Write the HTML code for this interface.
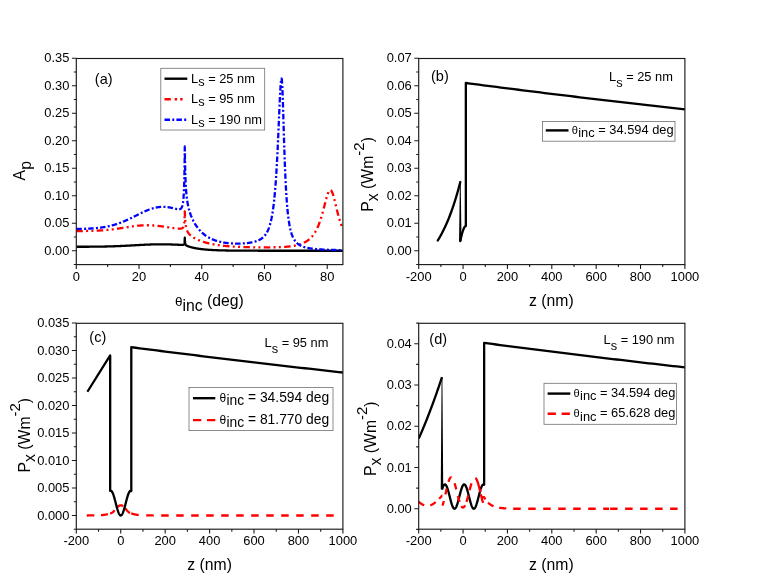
<!DOCTYPE html>
<html><head><meta charset="utf-8"><title>Figure</title>
<style>
html,body{margin:0;padding:0;background:#fff;}
body{width:761px;height:588px;overflow:hidden;font-family:"Liberation Sans", sans-serif;}
svg{display:block;will-change:transform;transform:translateZ(0);}
</style></head><body>
<svg width="761" height="588" viewBox="0 0 761 588" font-family='"Liberation Sans", sans-serif' fill="#000">
<rect width="761" height="588" fill="#fff"/>
<clipPath id="ca"><rect x="76.30" y="58.50" width="266.60" height="206.10"/></clipPath>
<clipPath id="cb"><rect x="418.70" y="58.50" width="266.20" height="206.10"/></clipPath>
<clipPath id="cc"><rect x="76.30" y="323.30" width="266.60" height="205.90"/></clipPath>
<clipPath id="cd"><rect x="418.70" y="323.30" width="266.20" height="205.90"/></clipPath>
<g clip-path="url(#ca)">
<path d="M76.30,246.77 L76.46,246.77 L76.61,246.77 L76.77,246.77 L76.93,246.77 L77.08,246.77 L77.24,246.77 L77.40,246.77 L77.55,246.77 L77.71,246.77 L77.87,246.77 L78.03,246.77 L78.18,246.77 L78.34,246.77 L78.50,246.77 L78.65,246.77 L78.81,246.77 L78.97,246.77 L79.12,246.77 L79.28,246.77 L79.44,246.77 L79.59,246.77 L79.75,246.77 L79.91,246.77 L80.06,246.77 L80.22,246.77 L80.38,246.76 L80.53,246.76 L80.69,246.76 L80.85,246.76 L81.00,246.76 L81.16,246.76 L81.32,246.76 L81.48,246.76 L81.63,246.76 L81.79,246.76 L81.95,246.76 L82.10,246.76 L82.26,246.76 L82.42,246.76 L82.57,246.76 L82.73,246.76 L82.89,246.76 L83.04,246.76 L83.20,246.76 L83.36,246.75 L83.51,246.75 L83.67,246.75 L83.83,246.75 L83.98,246.75 L84.14,246.75 L84.30,246.75 L84.45,246.75 L84.61,246.75 L84.77,246.75 L84.93,246.75 L85.08,246.75 L85.24,246.75 L85.40,246.75 L85.55,246.75 L85.71,246.74 L85.87,246.74 L86.02,246.74 L86.18,246.74 L86.34,246.74 L86.49,246.74 L86.65,246.74 L86.81,246.74 L86.96,246.74 L87.12,246.74 L87.28,246.74 L87.43,246.74 L87.59,246.73 L87.75,246.73 L87.90,246.73 L88.06,246.73 L88.22,246.73 L88.38,246.73 L88.53,246.73 L88.69,246.73 L88.85,246.73 L89.00,246.73 L89.16,246.73 L89.32,246.72 L89.47,246.72 L89.63,246.72 L89.79,246.72 L89.94,246.72 L90.10,246.72 L90.26,246.72 L90.41,246.72 L90.57,246.72 L90.73,246.71 L90.88,246.71 L91.04,246.71 L91.20,246.71 L91.36,246.71 L91.51,246.71 L91.67,246.71 L91.83,246.71 L91.98,246.70 L92.14,246.70 L92.30,246.70 L92.45,246.70 L92.61,246.70 L92.77,246.70 L92.92,246.70 L93.08,246.69 L93.24,246.69 L93.39,246.69 L93.55,246.69 L93.71,246.69 L93.86,246.69 L94.02,246.69 L94.18,246.68 L94.33,246.68 L94.49,246.68 L94.65,246.68 L94.81,246.68 L94.96,246.68 L95.12,246.67 L95.28,246.67 L95.43,246.67 L95.59,246.67 L95.75,246.67 L95.90,246.67 L96.06,246.66 L96.22,246.66 L96.37,246.66 L96.53,246.66 L96.69,246.66 L96.84,246.65 L97.00,246.65 L97.16,246.65 L97.31,246.65 L97.47,246.65 L97.63,246.64 L97.78,246.64 L97.94,246.64 L98.10,246.64 L98.26,246.64 L98.41,246.63 L98.57,246.63 L98.73,246.63 L98.88,246.63 L99.04,246.62 L99.20,246.62 L99.35,246.62 L99.51,246.62 L99.67,246.62 L99.82,246.61 L99.98,246.61 L100.14,246.61 L100.29,246.61 L100.45,246.60 L100.61,246.60 L100.76,246.60 L100.92,246.60 L101.08,246.59 L101.23,246.59 L101.39,246.59 L101.55,246.59 L101.71,246.58 L101.86,246.58 L102.02,246.58 L102.18,246.57 L102.33,246.57 L102.49,246.57 L102.65,246.57 L102.80,246.56 L102.96,246.56 L103.12,246.56 L103.27,246.55 L103.43,246.55 L103.59,246.55 L103.74,246.54 L103.90,246.54 L104.06,246.54 L104.21,246.54 L104.37,246.53 L104.53,246.53 L104.69,246.53 L104.84,246.52 L105.00,246.52 L105.16,246.52 L105.31,246.51 L105.47,246.51 L105.63,246.51 L105.78,246.50 L105.94,246.50 L106.10,246.49 L106.25,246.49 L106.41,246.49 L106.57,246.48 L106.72,246.48 L106.88,246.48 L107.04,246.47 L107.19,246.47 L107.35,246.46 L107.51,246.46 L107.66,246.46 L107.82,246.45 L107.98,246.45 L108.14,246.45 L108.29,246.44 L108.45,246.44 L108.61,246.43 L108.76,246.43 L108.92,246.42 L109.08,246.42 L109.23,246.42 L109.39,246.41 L109.55,246.41 L109.70,246.40 L109.86,246.40 L110.02,246.39 L110.17,246.39 L110.33,246.39 L110.49,246.38 L110.64,246.38 L110.80,246.37 L110.96,246.37 L111.11,246.36 L111.27,246.36 L111.43,246.35 L111.59,246.35 L111.74,246.34 L111.90,246.34 L112.06,246.33 L112.21,246.33 L112.37,246.32 L112.53,246.32 L112.68,246.31 L112.84,246.31 L113.00,246.30 L113.15,246.30 L113.31,246.29 L113.47,246.29 L113.62,246.28 L113.78,246.28 L113.94,246.27 L114.09,246.27 L114.25,246.26 L114.41,246.25 L114.56,246.25 L114.72,246.24 L114.88,246.24 L115.04,246.23 L115.19,246.23 L115.35,246.22 L115.51,246.22 L115.66,246.21 L115.82,246.20 L115.98,246.20 L116.13,246.19 L116.29,246.19 L116.45,246.18 L116.60,246.17 L116.76,246.17 L116.92,246.16 L117.07,246.16 L117.23,246.15 L117.39,246.14 L117.54,246.14 L117.70,246.13 L117.86,246.12 L118.02,246.12 L118.17,246.11 L118.33,246.10 L118.49,246.10 L118.64,246.09 L118.80,246.09 L118.96,246.08 L119.11,246.07 L119.27,246.07 L119.43,246.06 L119.58,246.05 L119.74,246.04 L119.90,246.04 L120.05,246.03 L120.21,246.02 L120.37,246.02 L120.52,246.01 L120.68,246.00 L120.84,246.00 L120.99,245.99 L121.15,245.98 L121.31,245.98 L121.47,245.97 L121.62,245.96 L121.78,245.95 L121.94,245.95 L122.09,245.94 L122.25,245.93 L122.41,245.92 L122.56,245.92 L122.72,245.91 L122.88,245.90 L123.03,245.89 L123.19,245.89 L123.35,245.88 L123.50,245.87 L123.66,245.86 L123.82,245.86 L123.97,245.85 L124.13,245.84 L124.29,245.83 L124.44,245.83 L124.60,245.82 L124.76,245.81 L124.92,245.80 L125.07,245.79 L125.23,245.79 L125.39,245.78 L125.54,245.77 L125.70,245.76 L125.86,245.75 L126.01,245.75 L126.17,245.74 L126.33,245.73 L126.48,245.72 L126.64,245.71 L126.80,245.71 L126.95,245.70 L127.11,245.69 L127.27,245.68 L127.42,245.67 L127.58,245.66 L127.74,245.66 L127.89,245.65 L128.05,245.64 L128.21,245.63 L128.37,245.62 L128.52,245.61 L128.68,245.60 L128.84,245.60 L128.99,245.59 L129.15,245.58 L129.31,245.57 L129.46,245.56 L129.62,245.55 L129.78,245.55 L129.93,245.54 L130.09,245.53 L130.25,245.52 L130.40,245.51 L130.56,245.50 L130.72,245.49 L130.87,245.48 L131.03,245.48 L131.19,245.47 L131.35,245.46 L131.50,245.45 L131.66,245.44 L131.82,245.43 L131.97,245.42 L132.13,245.41 L132.29,245.41 L132.44,245.40 L132.60,245.39 L132.76,245.38 L132.91,245.37 L133.07,245.36 L133.23,245.35 L133.38,245.34 L133.54,245.34 L133.70,245.33 L133.85,245.32 L134.01,245.31 L134.17,245.30 L134.32,245.29 L134.48,245.28 L134.64,245.27 L134.80,245.26 L134.95,245.26 L135.11,245.25 L135.27,245.24 L135.42,245.23 L135.58,245.22 L135.74,245.21 L135.89,245.20 L136.05,245.19 L136.21,245.19 L136.36,245.18 L136.52,245.17 L136.68,245.16 L136.83,245.15 L136.99,245.14 L137.15,245.13 L137.30,245.12 L137.46,245.11 L137.62,245.11 L137.77,245.10 L137.93,245.09 L138.09,245.08 L138.25,245.07 L138.40,245.06 L138.56,245.05 L138.72,245.05 L138.87,245.04 L139.03,245.03 L139.19,245.02 L139.34,245.01 L139.50,245.00 L139.66,244.99 L139.81,244.99 L139.97,244.98 L140.13,244.97 L140.28,244.96 L140.44,244.95 L140.60,244.94 L140.75,244.94 L140.91,244.93 L141.07,244.92 L141.22,244.91 L141.38,244.90 L141.54,244.89 L141.70,244.89 L141.85,244.88 L142.01,244.87 L142.17,244.86 L142.32,244.85 L142.48,244.85 L142.64,244.84 L142.79,244.83 L142.95,244.82 L143.11,244.81 L143.26,244.81 L143.42,244.80 L143.58,244.79 L143.73,244.78 L143.89,244.78 L144.05,244.77 L144.20,244.76 L144.36,244.75 L144.52,244.75 L144.68,244.74 L144.83,244.73 L144.99,244.72 L145.15,244.72 L145.30,244.71 L145.46,244.70 L145.62,244.69 L145.77,244.69 L145.93,244.68 L146.09,244.67 L146.24,244.67 L146.40,244.66 L146.56,244.65 L146.71,244.65 L146.87,244.64 L147.03,244.63 L147.18,244.63 L147.34,244.62 L147.50,244.61 L147.65,244.61 L147.81,244.60 L147.97,244.59 L148.13,244.59 L148.28,244.58 L148.44,244.57 L148.60,244.57 L148.75,244.56 L148.91,244.56 L149.07,244.55 L149.22,244.54 L149.38,244.54 L149.54,244.53 L149.69,244.53 L149.85,244.52 L150.01,244.52 L150.16,244.51 L150.32,244.51 L150.48,244.50 L150.63,244.49 L150.79,244.49 L150.95,244.48 L151.10,244.48 L151.26,244.47 L151.42,244.47 L151.58,244.46 L151.73,244.46 L151.89,244.45 L152.05,244.45 L152.20,244.45 L152.36,244.44 L152.52,244.44 L152.67,244.43 L152.83,244.43 L152.99,244.42 L153.14,244.42 L153.30,244.41 L153.46,244.41 L153.61,244.41 L153.77,244.40 L153.93,244.40 L154.08,244.40 L154.24,244.39 L154.40,244.39 L154.55,244.39 L154.71,244.38 L154.87,244.38 L155.03,244.38 L155.18,244.37 L155.34,244.37 L155.50,244.37 L155.65,244.36 L155.81,244.36 L155.97,244.36 L156.12,244.35 L156.28,244.35 L156.44,244.35 L156.59,244.35 L156.75,244.34 L156.91,244.34 L157.06,244.34 L157.22,244.34 L157.38,244.34 L157.53,244.33 L157.69,244.33 L157.85,244.33 L158.01,244.33 L158.16,244.33 L158.32,244.33 L158.48,244.32 L158.63,244.32 L158.79,244.32 L158.95,244.32 L159.10,244.32 L159.26,244.32 L159.42,244.32 L159.57,244.32 L159.73,244.32 L159.89,244.32 L160.04,244.31 L160.20,244.31 L160.36,244.31 L160.51,244.31 L160.67,244.31 L160.83,244.31 L160.98,244.31 L161.14,244.31 L161.30,244.31 L161.46,244.31 L161.61,244.31 L161.77,244.31 L161.93,244.31 L162.08,244.32 L162.24,244.32 L162.40,244.32 L162.55,244.32 L162.71,244.32 L162.87,244.32 L163.02,244.32 L163.18,244.32 L163.34,244.32 L163.49,244.32 L163.65,244.33 L163.81,244.33 L163.96,244.33 L164.12,244.33 L164.28,244.33 L164.43,244.33 L164.59,244.34 L164.75,244.34 L164.91,244.34 L165.06,244.34 L165.22,244.34 L165.38,244.35 L165.53,244.35 L165.69,244.35 L165.85,244.35 L166.00,244.36 L166.16,244.36 L166.32,244.36 L166.47,244.36 L166.63,244.37 L166.79,244.37 L166.94,244.37 L167.10,244.38 L167.26,244.38 L167.41,244.38 L167.57,244.39 L167.73,244.39 L167.88,244.39 L168.04,244.40 L168.20,244.40 L168.36,244.40 L168.51,244.41 L168.67,244.41 L168.83,244.42 L168.98,244.42 L169.14,244.42 L169.30,244.43 L169.45,244.43 L169.61,244.44 L169.77,244.44 L169.92,244.45 L170.08,244.45 L170.24,244.46 L170.39,244.46 L170.55,244.46 L170.71,244.47 L170.86,244.47 L171.02,244.48 L171.18,244.48 L171.34,244.49 L171.49,244.49 L171.65,244.50 L171.81,244.51 L171.96,244.51 L172.12,244.52 L172.28,244.52 L172.43,244.53 L172.59,244.53 L172.75,244.54 L172.90,244.54 L173.06,244.55 L173.22,244.56 L173.37,244.56 L173.53,244.57 L173.69,244.57 L173.84,244.58 L174.00,244.59 L174.16,244.59 L174.31,244.60 L174.47,244.60 L174.63,244.61 L174.79,244.62 L174.94,244.62 L175.10,244.63 L175.26,244.64 L175.41,244.64 L175.57,244.65 L175.73,244.65 L175.88,244.66 L176.04,244.67 L176.20,244.67 L176.35,244.68 L176.51,244.69 L176.67,244.69 L176.82,244.70 L176.98,244.71 L177.14,244.71 L177.29,244.72 L177.45,244.73 L177.61,244.73 L177.76,244.74 L177.92,244.75 L178.08,244.75 L178.24,244.76 L178.39,244.77 L178.55,244.77 L178.71,244.78 L178.86,244.79 L179.02,244.79 L179.18,244.80 L179.33,244.81 L179.49,244.81 L179.65,244.82 L179.80,244.83 L179.96,244.83 L180.12,244.84 L180.27,244.84 L180.43,244.85 L180.59,244.85 L180.74,244.86 L180.90,244.86 L181.06,244.86 L181.21,244.87 L181.37,244.87 L181.53,244.87 L181.69,244.87 L181.84,244.87 L182.00,244.87 L182.16,244.87 L182.31,244.86 L182.47,244.86 L182.63,244.85 L182.78,244.83 L182.94,244.81 L183.10,244.79 L183.25,244.76 L183.41,244.71 L183.57,244.65 L183.72,244.56 L183.88,244.44 L184.04,244.26 L184.19,243.99 L184.35,243.54 L184.51,242.73 L184.67,241.06 L184.80,237.54 L184.82,238.26 L184.98,241.68 L185.14,243.14 L185.29,243.91 L185.45,244.37 L185.61,244.69 L185.76,244.92 L185.92,245.10 L186.08,245.25 L186.23,245.38 L186.39,245.48 L186.55,245.58 L186.70,245.67 L186.86,245.75 L187.02,245.83 L187.17,245.90 L187.33,245.97 L187.49,246.04 L187.64,246.10 L187.80,246.16 L187.96,246.22 L188.12,246.28 L188.27,246.34 L188.43,246.40 L188.59,246.45 L188.74,246.50 L188.90,246.56 L189.06,246.61 L189.21,246.66 L189.37,246.71 L189.53,246.76 L189.68,246.80 L189.84,246.85 L190.00,246.90 L190.15,246.94 L190.31,246.99 L190.47,247.03 L190.62,247.08 L190.78,247.12 L190.94,247.16 L191.09,247.21 L191.25,247.25 L191.41,247.29 L191.57,247.33 L191.72,247.37 L191.88,247.41 L192.04,247.45 L192.19,247.49 L192.35,247.53 L192.51,247.56 L192.66,247.60 L192.82,247.64 L192.98,247.68 L193.13,247.71 L193.29,247.75 L193.45,247.78 L193.60,247.82 L193.76,247.85 L193.92,247.88 L194.07,247.92 L194.23,247.95 L194.39,247.98 L194.54,248.02 L194.70,248.05 L194.86,248.08 L195.02,248.11 L195.17,248.14 L195.33,248.17 L195.49,248.20 L195.64,248.23 L195.80,248.26 L195.96,248.29 L196.11,248.32 L196.27,248.35 L196.43,248.37 L196.58,248.40 L196.74,248.43 L196.90,248.45 L197.05,248.48 L197.21,248.51 L197.37,248.53 L197.52,248.56 L197.68,248.58 L197.84,248.61 L198.00,248.63 L198.15,248.66 L198.31,248.68 L198.47,248.71 L198.62,248.73 L198.78,248.75 L198.94,248.78 L199.09,248.80 L199.25,248.82 L199.41,248.85 L199.56,248.87 L199.72,248.89 L199.88,248.91 L200.03,248.93 L200.19,248.95 L200.35,248.97 L200.50,248.99 L200.66,249.01 L200.82,249.03 L200.97,249.05 L201.13,249.07 L201.29,249.09 L201.45,249.11 L201.60,249.13 L201.76,249.15 L201.92,249.17 L202.07,249.19 L202.23,249.21 L202.39,249.22 L202.54,249.24 L202.70,249.26 L202.86,249.28 L203.01,249.29 L203.17,249.31 L203.33,249.33 L203.48,249.34 L203.64,249.36 L203.80,249.38 L203.95,249.39 L204.11,249.41 L204.27,249.42 L204.42,249.44 L204.58,249.45 L204.74,249.47 L204.90,249.48 L205.05,249.50 L205.21,249.51 L205.37,249.53 L205.52,249.54 L205.68,249.55 L205.84,249.57 L205.99,249.58 L206.15,249.60 L206.31,249.61 L206.46,249.62 L206.62,249.64 L206.78,249.65 L206.93,249.66 L207.09,249.67 L207.25,249.69 L207.40,249.70 L207.56,249.71 L207.72,249.72 L207.87,249.73 L208.03,249.75 L208.19,249.76 L208.35,249.77 L208.50,249.78 L208.66,249.79 L208.82,249.80 L208.97,249.81 L209.13,249.82 L209.29,249.84 L209.44,249.85 L209.60,249.86 L209.76,249.87 L209.91,249.88 L210.07,249.89 L210.23,249.90 L210.38,249.91 L210.54,249.92 L210.70,249.93 L210.85,249.94 L211.01,249.94 L211.17,249.95 L211.33,249.96 L211.48,249.97 L211.64,249.98 L211.80,249.99 L211.95,250.00 L212.11,250.01 L212.27,250.02 L212.42,250.02 L212.58,250.03 L212.74,250.04 L212.89,250.05 L213.05,250.06 L213.21,250.07 L213.36,250.07 L213.52,250.08 L213.68,250.09 L213.83,250.10 L213.99,250.10 L214.15,250.11 L214.30,250.12 L214.46,250.13 L214.62,250.13 L214.78,250.14 L214.93,250.15 L215.09,250.15 L215.25,250.16 L215.40,250.17 L215.56,250.18 L215.72,250.18 L215.87,250.19 L216.03,250.20 L216.19,250.20 L216.34,250.21 L216.50,250.21 L216.66,250.22 L216.81,250.23 L216.97,250.23 L217.13,250.24 L217.28,250.24 L217.44,250.25 L217.60,250.26 L217.75,250.26 L217.91,250.27 L218.07,250.27 L218.23,250.28 L218.38,250.28 L218.54,250.29 L218.70,250.29 L218.85,250.30 L219.01,250.31 L219.17,250.31 L219.32,250.32 L219.48,250.32 L219.64,250.33 L219.79,250.33 L219.95,250.33 L220.11,250.34 L220.26,250.34 L220.42,250.35 L220.58,250.35 L220.73,250.36 L220.89,250.36 L221.05,250.37 L221.20,250.37 L221.36,250.38 L221.52,250.38 L221.68,250.38 L221.83,250.39 L221.99,250.39 L222.15,250.40 L222.30,250.40 L222.46,250.41 L222.62,250.41 L222.77,250.41 L222.93,250.42 L223.09,250.42 L223.24,250.42 L223.40,250.43 L223.56,250.43 L223.71,250.44 L223.87,250.44 L224.03,250.44 L224.18,250.45 L224.34,250.45 L224.50,250.45 L224.66,250.46 L224.81,250.46 L224.97,250.46 L225.13,250.47 L225.28,250.47 L225.44,250.47 L225.60,250.48 L225.75,250.48 L225.91,250.48 L226.07,250.49 L226.22,250.49 L226.38,250.49 L226.54,250.50 L226.69,250.50 L226.85,250.50 L227.01,250.50 L227.16,250.51 L227.32,250.51 L227.48,250.51 L227.63,250.52 L227.79,250.52 L227.95,250.52 L228.11,250.52 L228.26,250.53 L228.42,250.53 L228.58,250.53 L228.73,250.53 L228.89,250.54 L229.05,250.54 L229.20,250.54 L229.36,250.54 L229.52,250.55 L229.67,250.55 L229.83,250.55 L229.99,250.55 L230.14,250.55 L230.30,250.56 L230.46,250.56 L230.61,250.56 L230.77,250.56 L230.93,250.57 L231.08,250.57 L231.24,250.57 L231.40,250.57 L231.56,250.57 L231.71,250.58 L231.87,250.58 L232.03,250.58 L232.18,250.58 L232.34,250.58 L232.50,250.59 L232.65,250.59 L232.81,250.59 L232.97,250.59 L233.12,250.59 L233.28,250.60 L233.44,250.60 L233.59,250.60 L233.75,250.60 L233.91,250.60 L234.06,250.60 L234.22,250.61 L234.38,250.61 L234.53,250.61 L234.69,250.61 L234.85,250.61 L235.01,250.61 L235.16,250.62 L235.32,250.62 L235.48,250.62 L235.63,250.62 L235.79,250.62 L235.95,250.62 L236.10,250.62 L236.26,250.63 L236.42,250.63 L236.57,250.63 L236.73,250.63 L236.89,250.63 L237.04,250.63 L237.20,250.63 L237.36,250.64 L237.51,250.64 L237.67,250.64 L237.83,250.64 L237.99,250.64 L238.14,250.64 L238.30,250.64 L238.46,250.64 L238.61,250.65 L238.77,250.65 L238.93,250.65 L239.08,250.65 L239.24,250.65 L239.40,250.65 L239.55,250.65 L239.71,250.65 L239.87,250.66 L240.02,250.66 L240.18,250.66 L240.34,250.66 L240.49,250.66 L240.65,250.66 L240.81,250.66 L240.96,250.66 L241.12,250.66 L241.28,250.66 L241.44,250.67 L241.59,250.67 L241.75,250.67 L241.91,250.67 L242.06,250.67 L242.22,250.67 L242.38,250.67 L242.53,250.67 L242.69,250.67 L242.85,250.67 L243.00,250.67 L243.16,250.68 L243.32,250.68 L243.47,250.68 L243.63,250.68 L243.79,250.68 L243.94,250.68 L244.10,250.68 L244.26,250.68 L244.41,250.68 L244.57,250.68 L244.73,250.68 L244.89,250.68 L245.04,250.69 L245.20,250.69 L245.36,250.69 L245.51,250.69 L245.67,250.69 L245.83,250.69 L245.98,250.69 L246.14,250.69 L246.30,250.69 L246.45,250.69 L246.61,250.69 L246.77,250.69 L246.92,250.69 L247.08,250.69 L247.24,250.69 L247.39,250.70 L247.55,250.70 L247.71,250.70 L247.86,250.70 L248.02,250.70 L248.18,250.70 L248.34,250.70 L248.49,250.70 L248.65,250.70 L248.81,250.70 L248.96,250.70 L249.12,250.70 L249.28,250.70 L249.43,250.70 L249.59,250.70 L249.75,250.70 L249.90,250.70 L250.06,250.71 L250.22,250.71 L250.37,250.71 L250.53,250.71 L250.69,250.71 L250.84,250.71 L251.00,250.71 L251.16,250.71 L251.32,250.71 L251.47,250.71 L251.63,250.71 L251.79,250.71 L251.94,250.71 L252.10,250.71 L252.26,250.71 L252.41,250.71 L252.57,250.71 L252.73,250.71 L252.88,250.71 L253.04,250.71 L253.20,250.71 L253.35,250.71 L253.51,250.72 L253.67,250.72 L253.82,250.72 L253.98,250.72 L254.14,250.72 L254.29,250.72 L254.45,250.72 L254.61,250.72 L254.77,250.72 L254.92,250.72 L255.08,250.72 L255.24,250.72 L255.39,250.72 L255.55,250.72 L255.71,250.72 L255.86,250.72 L256.02,250.72 L256.18,250.72 L256.33,250.72 L256.49,250.72 L256.65,250.72 L256.80,250.72 L256.96,250.72 L257.12,250.72 L257.27,250.72 L257.43,250.72 L257.59,250.72 L257.74,250.72 L257.90,250.72 L258.06,250.73 L258.22,250.73 L258.37,250.73 L258.53,250.73 L258.69,250.73 L258.84,250.73 L259.00,250.73 L259.16,250.73 L259.31,250.73 L259.47,250.73 L259.63,250.73 L259.78,250.73 L259.94,250.73 L260.10,250.73 L260.25,250.73 L260.41,250.73 L260.57,250.73 L260.72,250.73 L260.88,250.73 L261.04,250.73 L261.19,250.73 L261.35,250.73 L261.51,250.73 L261.67,250.73 L261.82,250.73 L261.98,250.73 L262.14,250.73 L262.29,250.73 L262.45,250.73 L262.61,250.73 L262.76,250.73 L262.92,250.73 L263.08,250.73 L263.23,250.73 L263.39,250.73 L263.55,250.73 L263.70,250.73 L263.86,250.73 L264.02,250.73 L264.17,250.73 L264.33,250.73 L264.49,250.73 L264.65,250.73 L264.80,250.73 L264.96,250.74 L265.12,250.74 L265.27,250.74 L265.43,250.74 L265.59,250.74 L265.74,250.74 L265.90,250.74 L266.06,250.74 L266.21,250.74 L266.37,250.74 L266.53,250.74 L266.68,250.74 L266.84,250.74 L267.00,250.74 L267.15,250.74 L267.31,250.74 L267.47,250.74 L267.62,250.74 L267.78,250.74 L267.94,250.74 L268.10,250.74 L268.25,250.74 L268.41,250.74 L268.57,250.74 L268.72,250.74 L268.88,250.74 L269.04,250.74 L269.19,250.74 L269.35,250.74 L269.51,250.74 L269.66,250.74 L269.82,250.74 L269.98,250.74 L270.13,250.74 L270.29,250.74 L270.45,250.74 L270.60,250.74 L270.76,250.74 L270.92,250.74 L271.07,250.74 L271.23,250.74 L271.39,250.74 L271.55,250.74 L271.70,250.74 L271.86,250.74 L272.02,250.74 L272.17,250.74 L272.33,250.74 L272.49,250.74 L272.64,250.74 L272.80,250.74 L272.96,250.74 L273.11,250.74 L273.27,250.74 L273.43,250.74 L273.58,250.74 L273.74,250.74 L273.90,250.74 L274.05,250.74 L274.21,250.74 L274.37,250.74 L274.52,250.74 L274.68,250.74 L274.84,250.74 L275.00,250.74 L275.15,250.74 L275.31,250.74 L275.47,250.74 L275.62,250.74 L275.78,250.74 L275.94,250.74 L276.09,250.74 L276.25,250.74 L276.41,250.74 L276.56,250.74 L276.72,250.74 L276.88,250.74 L277.03,250.74 L277.19,250.74 L277.35,250.74 L277.50,250.74 L277.66,250.74 L277.82,250.74 L277.98,250.74 L278.13,250.74 L278.29,250.74 L278.45,250.74 L278.60,250.74 L278.76,250.74 L278.92,250.74 L279.07,250.74 L279.23,250.74 L279.39,250.74 L279.54,250.74 L279.70,250.74 L279.86,250.75 L280.01,250.75 L280.17,250.75 L280.33,250.75 L280.48,250.75 L280.64,250.75 L280.80,250.75 L280.95,250.75 L281.11,250.75 L281.27,250.75 L281.43,250.75 L281.58,250.75 L281.74,250.75 L281.90,250.75 L282.05,250.75 L282.21,250.75 L282.37,250.75 L282.52,250.75 L282.68,250.75 L282.84,250.75 L282.99,250.75 L283.15,250.75 L283.31,250.75 L283.46,250.75 L283.62,250.75 L283.78,250.75 L283.93,250.75 L284.09,250.75 L284.25,250.75 L284.40,250.75 L284.56,250.75 L284.72,250.75 L284.88,250.75 L285.03,250.75 L285.19,250.75 L285.35,250.75 L285.50,250.75 L285.66,250.75 L285.82,250.75 L285.97,250.75 L286.13,250.75 L286.29,250.75 L286.44,250.75 L286.60,250.75 L286.76,250.75 L286.91,250.75 L287.07,250.75 L287.23,250.75 L287.38,250.75 L287.54,250.75 L287.70,250.75 L287.85,250.75 L288.01,250.75 L288.17,250.75 L288.33,250.75 L288.48,250.75 L288.64,250.75 L288.80,250.75 L288.95,250.75 L289.11,250.75 L289.27,250.75 L289.42,250.75 L289.58,250.75 L289.74,250.75 L289.89,250.75 L290.05,250.75 L290.21,250.75 L290.36,250.75 L290.52,250.75 L290.68,250.75 L290.83,250.75 L290.99,250.75 L291.15,250.75 L291.31,250.75 L291.46,250.75 L291.62,250.75 L291.78,250.75 L291.93,250.75 L292.09,250.75 L292.25,250.75 L292.40,250.75 L292.56,250.75 L292.72,250.75 L292.87,250.75 L293.03,250.75 L293.19,250.75 L293.34,250.75 L293.50,250.75 L293.66,250.75 L293.81,250.75 L293.97,250.75 L294.13,250.75 L294.28,250.75 L294.44,250.75 L294.60,250.75 L294.76,250.75 L294.91,250.75 L295.07,250.75 L295.23,250.75 L295.38,250.75 L295.54,250.75 L295.70,250.75 L295.85,250.75 L296.01,250.75 L296.17,250.75 L296.32,250.75 L296.48,250.75 L296.64,250.75 L296.79,250.75 L296.95,250.75 L297.11,250.75 L297.26,250.75 L297.42,250.75 L297.58,250.75 L297.73,250.75 L297.89,250.75 L298.05,250.75 L298.21,250.75 L298.36,250.75 L298.52,250.75 L298.68,250.75 L298.83,250.75 L298.99,250.75 L299.15,250.75 L299.30,250.75 L299.46,250.75 L299.62,250.75 L299.77,250.75 L299.93,250.75 L300.09,250.75 L300.24,250.75 L300.40,250.75 L300.56,250.75 L300.71,250.75 L300.87,250.75 L301.03,250.75 L301.18,250.75 L301.34,250.75 L301.50,250.75 L301.66,250.75 L301.81,250.75 L301.97,250.75 L302.13,250.75 L302.28,250.75 L302.44,250.75 L302.60,250.75 L302.75,250.75 L302.91,250.75 L303.07,250.75 L303.22,250.75 L303.38,250.75 L303.54,250.75 L303.69,250.75 L303.85,250.75 L304.01,250.75 L304.16,250.75 L304.32,250.75 L304.48,250.75 L304.64,250.75 L304.79,250.75 L304.95,250.75 L305.11,250.75 L305.26,250.75 L305.42,250.75 L305.58,250.75 L305.73,250.75 L305.89,250.75 L306.05,250.75 L306.20,250.75 L306.36,250.75 L306.52,250.75 L306.67,250.75 L306.83,250.75 L306.99,250.75 L307.14,250.75 L307.30,250.75 L307.46,250.75 L307.61,250.75 L307.77,250.75 L307.93,250.75 L308.09,250.75 L308.24,250.75 L308.40,250.75 L308.56,250.75 L308.71,250.75 L308.87,250.75 L309.03,250.75 L309.18,250.75 L309.34,250.75 L309.50,250.75 L309.65,250.75 L309.81,250.75 L309.97,250.75 L310.12,250.75 L310.28,250.75 L310.44,250.75 L310.59,250.75 L310.75,250.75 L310.91,250.75 L311.06,250.75 L311.22,250.75 L311.38,250.75 L311.54,250.75 L311.69,250.75 L311.85,250.75 L312.01,250.75 L312.16,250.75 L312.32,250.75 L312.48,250.75 L312.63,250.75 L312.79,250.75 L312.95,250.75 L313.10,250.75 L313.26,250.75 L313.42,250.75 L313.57,250.75 L313.73,250.75 L313.89,250.75 L314.04,250.75 L314.20,250.75 L314.36,250.75 L314.51,250.75 L314.67,250.75 L314.83,250.75 L314.99,250.75 L315.14,250.75 L315.30,250.75 L315.46,250.75 L315.61,250.75 L315.77,250.75 L315.93,250.75 L316.08,250.75 L316.24,250.75 L316.40,250.75 L316.55,250.75 L316.71,250.75 L316.87,250.75 L317.02,250.75 L317.18,250.75 L317.34,250.75 L317.49,250.75 L317.65,250.75 L317.81,250.75 L317.97,250.75 L318.12,250.75 L318.28,250.75 L318.44,250.75 L318.59,250.75 L318.75,250.75 L318.91,250.75 L319.06,250.75 L319.22,250.75 L319.38,250.75 L319.53,250.75 L319.69,250.75 L319.85,250.75 L320.00,250.75 L320.16,250.75 L320.32,250.75 L320.47,250.75 L320.63,250.75 L320.79,250.75 L320.94,250.75 L321.10,250.75 L321.26,250.75 L321.42,250.75 L321.57,250.75 L321.73,250.75 L321.89,250.75 L322.04,250.75 L322.20,250.75 L322.36,250.75 L322.51,250.75 L322.67,250.75 L322.83,250.75 L322.98,250.75 L323.14,250.75 L323.30,250.75 L323.45,250.75 L323.61,250.75 L323.77,250.75 L323.92,250.75 L324.08,250.75 L324.24,250.75 L324.39,250.75 L324.55,250.75 L324.71,250.75 L324.87,250.75 L325.02,250.75 L325.18,250.75 L325.34,250.75 L325.49,250.75 L325.65,250.75 L325.81,250.75 L325.96,250.75 L326.12,250.75 L326.28,250.75 L326.43,250.75 L326.59,250.75 L326.75,250.75 L326.90,250.75 L327.06,250.75 L327.22,250.75 L327.37,250.75 L327.53,250.75 L327.69,250.75 L327.84,250.75 L328.00,250.75 L328.16,250.75 L328.32,250.75 L328.47,250.75 L328.63,250.75 L328.79,250.75 L328.94,250.75 L329.10,250.75 L329.26,250.75 L329.41,250.75 L329.57,250.75 L329.73,250.75 L329.88,250.75 L330.04,250.75 L330.20,250.75 L330.35,250.75 L330.51,250.75 L330.67,250.75 L330.82,250.75 L330.98,250.75 L331.14,250.75 L331.30,250.75 L331.45,250.75 L331.61,250.75 L331.77,250.75 L331.92,250.75 L332.08,250.75 L332.24,250.75 L332.39,250.75 L332.55,250.75 L332.71,250.75 L332.86,250.75 L333.02,250.75 L333.18,250.75 L333.33,250.75 L333.49,250.75 L333.65,250.75 L333.80,250.75 L333.96,250.75 L334.12,250.75 L334.27,250.75 L334.43,250.75 L334.59,250.75 L334.75,250.75 L334.90,250.75 L335.06,250.75 L335.22,250.75 L335.37,250.75 L335.53,250.75 L335.69,250.75 L335.84,250.75 L336.00,250.75 L336.16,250.75 L336.31,250.75 L336.47,250.75 L336.63,250.75 L336.78,250.75 L336.94,250.75 L337.10,250.75 L337.25,250.75 L337.41,250.75 L337.57,250.75 L337.72,250.75 L337.88,250.75 L338.04,250.75 L338.20,250.75 L338.35,250.75 L338.51,250.75 L338.67,250.75 L338.82,250.75 L338.98,250.75 L339.14,250.75 L339.29,250.75 L339.45,250.75 L339.61,250.75 L339.76,250.75 L339.92,250.75 L340.08,250.75 L340.23,250.75 L340.39,250.75 L340.55,250.75 L340.70,250.75 L340.86,250.75 L341.02,250.75 L341.17,250.75 L341.33,250.75 L341.49,250.75 L341.65,250.75 L341.80,250.75 L341.96,250.75 L342.12,250.75 L342.27,250.75 L342.43,250.75 L342.59,250.75 L342.74,250.75 L342.90,250.75" fill="none" stroke="#000" stroke-width="2.30" stroke-linejoin="round"/>
<path d="M76.30,231.09 L76.46,231.09 L76.61,231.09 L76.77,231.09 L76.93,231.09 L77.08,231.09 L77.24,231.09 L77.40,231.09 L77.55,231.08 L77.71,231.08 L77.87,231.08 L78.03,231.08 L78.18,231.08 L78.34,231.08 L78.50,231.08 L78.65,231.08 L78.81,231.08 L78.97,231.07 L79.12,231.07 L79.28,231.07 L79.44,231.07 L79.59,231.07 L79.75,231.07 L79.91,231.07 L80.06,231.06 L80.22,231.06 L80.38,231.06 L80.53,231.06 L80.69,231.06 L80.85,231.06 L81.00,231.06 L81.16,231.05 L81.32,231.05 L81.48,231.05 L81.63,231.05 L81.79,231.05 L81.95,231.05 L82.10,231.04 L82.26,231.04 L82.42,231.04 L82.57,231.04 L82.73,231.04 L82.89,231.03 L83.04,231.03 L83.20,231.03 L83.36,231.03 L83.51,231.03 L83.67,231.02 L83.83,231.02 L83.98,231.02 L84.14,231.02 L84.30,231.02 L84.45,231.01 L84.61,231.01 L84.77,231.01 L84.93,231.01 L85.08,231.00 L85.24,231.00 L85.40,231.00 L85.55,231.00 L85.71,230.99 L85.87,230.99 L86.02,230.99 L86.18,230.98 L86.34,230.98 L86.49,230.98 L86.65,230.98 L86.81,230.97 L86.96,230.97 L87.12,230.97 L87.28,230.96 L87.43,230.96 L87.59,230.96 L87.75,230.95 L87.90,230.95 L88.06,230.95 L88.22,230.94 L88.38,230.94 L88.53,230.94 L88.69,230.93 L88.85,230.93 L89.00,230.93 L89.16,230.92 L89.32,230.92 L89.47,230.92 L89.63,230.91 L89.79,230.91 L89.94,230.90 L90.10,230.90 L90.26,230.90 L90.41,230.89 L90.57,230.89 L90.73,230.88 L90.88,230.88 L91.04,230.87 L91.20,230.87 L91.36,230.87 L91.51,230.86 L91.67,230.86 L91.83,230.85 L91.98,230.85 L92.14,230.84 L92.30,230.84 L92.45,230.83 L92.61,230.83 L92.77,230.82 L92.92,230.82 L93.08,230.81 L93.24,230.80 L93.39,230.80 L93.55,230.79 L93.71,230.79 L93.86,230.78 L94.02,230.78 L94.18,230.77 L94.33,230.76 L94.49,230.76 L94.65,230.75 L94.81,230.75 L94.96,230.74 L95.12,230.73 L95.28,230.73 L95.43,230.72 L95.59,230.71 L95.75,230.71 L95.90,230.70 L96.06,230.69 L96.22,230.69 L96.37,230.68 L96.53,230.67 L96.69,230.67 L96.84,230.66 L97.00,230.65 L97.16,230.64 L97.31,230.64 L97.47,230.63 L97.63,230.62 L97.78,230.61 L97.94,230.60 L98.10,230.60 L98.26,230.59 L98.41,230.58 L98.57,230.57 L98.73,230.56 L98.88,230.55 L99.04,230.55 L99.20,230.54 L99.35,230.53 L99.51,230.52 L99.67,230.51 L99.82,230.50 L99.98,230.49 L100.14,230.48 L100.29,230.47 L100.45,230.46 L100.61,230.45 L100.76,230.44 L100.92,230.43 L101.08,230.42 L101.23,230.41 L101.39,230.40 L101.55,230.39 L101.71,230.38 L101.86,230.37 L102.02,230.36 L102.18,230.35 L102.33,230.34 L102.49,230.33 L102.65,230.31 L102.80,230.30 L102.96,230.29 L103.12,230.28 L103.27,230.27 L103.43,230.26 L103.59,230.24 L103.74,230.23 L103.90,230.22 L104.06,230.21 L104.21,230.20 L104.37,230.18 L104.53,230.17 L104.69,230.16 L104.84,230.14 L105.00,230.13 L105.16,230.12 L105.31,230.10 L105.47,230.09 L105.63,230.08 L105.78,230.06 L105.94,230.05 L106.10,230.04 L106.25,230.02 L106.41,230.01 L106.57,229.99 L106.72,229.98 L106.88,229.96 L107.04,229.95 L107.19,229.93 L107.35,229.92 L107.51,229.90 L107.66,229.89 L107.82,229.87 L107.98,229.86 L108.14,229.84 L108.29,229.83 L108.45,229.81 L108.61,229.80 L108.76,229.78 L108.92,229.76 L109.08,229.75 L109.23,229.73 L109.39,229.71 L109.55,229.70 L109.70,229.68 L109.86,229.66 L110.02,229.65 L110.17,229.63 L110.33,229.61 L110.49,229.59 L110.64,229.58 L110.80,229.56 L110.96,229.54 L111.11,229.52 L111.27,229.50 L111.43,229.48 L111.59,229.47 L111.74,229.45 L111.90,229.43 L112.06,229.41 L112.21,229.39 L112.37,229.37 L112.53,229.35 L112.68,229.33 L112.84,229.31 L113.00,229.29 L113.15,229.28 L113.31,229.26 L113.47,229.24 L113.62,229.22 L113.78,229.20 L113.94,229.17 L114.09,229.15 L114.25,229.13 L114.41,229.11 L114.56,229.09 L114.72,229.07 L114.88,229.05 L115.04,229.03 L115.19,229.01 L115.35,228.99 L115.51,228.97 L115.66,228.94 L115.82,228.92 L115.98,228.90 L116.13,228.88 L116.29,228.86 L116.45,228.84 L116.60,228.81 L116.76,228.79 L116.92,228.77 L117.07,228.75 L117.23,228.72 L117.39,228.70 L117.54,228.68 L117.70,228.66 L117.86,228.63 L118.02,228.61 L118.17,228.59 L118.33,228.56 L118.49,228.54 L118.64,228.52 L118.80,228.49 L118.96,228.47 L119.11,228.45 L119.27,228.42 L119.43,228.40 L119.58,228.38 L119.74,228.35 L119.90,228.33 L120.05,228.30 L120.21,228.28 L120.37,228.26 L120.52,228.23 L120.68,228.21 L120.84,228.18 L120.99,228.16 L121.15,228.13 L121.31,228.11 L121.47,228.09 L121.62,228.06 L121.78,228.04 L121.94,228.01 L122.09,227.99 L122.25,227.96 L122.41,227.94 L122.56,227.91 L122.72,227.89 L122.88,227.86 L123.03,227.84 L123.19,227.81 L123.35,227.79 L123.50,227.76 L123.66,227.74 L123.82,227.71 L123.97,227.69 L124.13,227.66 L124.29,227.64 L124.44,227.61 L124.60,227.59 L124.76,227.56 L124.92,227.54 L125.07,227.51 L125.23,227.49 L125.39,227.46 L125.54,227.44 L125.70,227.41 L125.86,227.39 L126.01,227.36 L126.17,227.34 L126.33,227.31 L126.48,227.29 L126.64,227.26 L126.80,227.24 L126.95,227.22 L127.11,227.19 L127.27,227.17 L127.42,227.14 L127.58,227.12 L127.74,227.09 L127.89,227.07 L128.05,227.04 L128.21,227.02 L128.37,226.99 L128.52,226.97 L128.68,226.95 L128.84,226.92 L128.99,226.90 L129.15,226.87 L129.31,226.85 L129.46,226.83 L129.62,226.80 L129.78,226.78 L129.93,226.75 L130.09,226.73 L130.25,226.71 L130.40,226.68 L130.56,226.66 L130.72,226.64 L130.87,226.62 L131.03,226.59 L131.19,226.57 L131.35,226.55 L131.50,226.52 L131.66,226.50 L131.82,226.48 L131.97,226.46 L132.13,226.44 L132.29,226.41 L132.44,226.39 L132.60,226.37 L132.76,226.35 L132.91,226.33 L133.07,226.31 L133.23,226.28 L133.38,226.26 L133.54,226.24 L133.70,226.22 L133.85,226.20 L134.01,226.18 L134.17,226.16 L134.32,226.14 L134.48,226.12 L134.64,226.10 L134.80,226.08 L134.95,226.06 L135.11,226.04 L135.27,226.02 L135.42,226.00 L135.58,225.99 L135.74,225.97 L135.89,225.95 L136.05,225.93 L136.21,225.91 L136.36,225.90 L136.52,225.88 L136.68,225.86 L136.83,225.84 L136.99,225.83 L137.15,225.81 L137.30,225.79 L137.46,225.78 L137.62,225.76 L137.77,225.75 L137.93,225.73 L138.09,225.71 L138.25,225.70 L138.40,225.68 L138.56,225.67 L138.72,225.66 L138.87,225.64 L139.03,225.63 L139.19,225.61 L139.34,225.60 L139.50,225.59 L139.66,225.57 L139.81,225.56 L139.97,225.55 L140.13,225.54 L140.28,225.52 L140.44,225.51 L140.60,225.50 L140.75,225.49 L140.91,225.48 L141.07,225.47 L141.22,225.46 L141.38,225.45 L141.54,225.44 L141.70,225.43 L141.85,225.42 L142.01,225.41 L142.17,225.40 L142.32,225.39 L142.48,225.38 L142.64,225.37 L142.79,225.37 L142.95,225.36 L143.11,225.35 L143.26,225.34 L143.42,225.34 L143.58,225.33 L143.73,225.33 L143.89,225.32 L144.05,225.31 L144.20,225.31 L144.36,225.30 L144.52,225.30 L144.68,225.29 L144.83,225.29 L144.99,225.29 L145.15,225.28 L145.30,225.28 L145.46,225.28 L145.62,225.27 L145.77,225.27 L145.93,225.27 L146.09,225.27 L146.24,225.26 L146.40,225.26 L146.56,225.26 L146.71,225.26 L146.87,225.26 L147.03,225.26 L147.18,225.26 L147.34,225.26 L147.50,225.26 L147.65,225.26 L147.81,225.26 L147.97,225.26 L148.13,225.27 L148.28,225.27 L148.44,225.27 L148.60,225.27 L148.75,225.28 L148.91,225.28 L149.07,225.28 L149.22,225.29 L149.38,225.29 L149.54,225.30 L149.69,225.30 L149.85,225.30 L150.01,225.31 L150.16,225.32 L150.32,225.32 L150.48,225.33 L150.63,225.33 L150.79,225.34 L150.95,225.35 L151.10,225.35 L151.26,225.36 L151.42,225.37 L151.58,225.38 L151.73,225.38 L151.89,225.39 L152.05,225.40 L152.20,225.41 L152.36,225.42 L152.52,225.43 L152.67,225.44 L152.83,225.45 L152.99,225.46 L153.14,225.47 L153.30,225.48 L153.46,225.49 L153.61,225.50 L153.77,225.51 L153.93,225.53 L154.08,225.54 L154.24,225.55 L154.40,225.56 L154.55,225.58 L154.71,225.59 L154.87,225.60 L155.03,225.62 L155.18,225.63 L155.34,225.64 L155.50,225.66 L155.65,225.67 L155.81,225.69 L155.97,225.70 L156.12,225.72 L156.28,225.73 L156.44,225.75 L156.59,225.76 L156.75,225.78 L156.91,225.79 L157.06,225.81 L157.22,225.83 L157.38,225.84 L157.53,225.86 L157.69,225.88 L157.85,225.89 L158.01,225.91 L158.16,225.93 L158.32,225.95 L158.48,225.96 L158.63,225.98 L158.79,226.00 L158.95,226.02 L159.10,226.04 L159.26,226.06 L159.42,226.08 L159.57,226.09 L159.73,226.11 L159.89,226.13 L160.04,226.15 L160.20,226.17 L160.36,226.19 L160.51,226.21 L160.67,226.23 L160.83,226.25 L160.98,226.27 L161.14,226.29 L161.30,226.32 L161.46,226.34 L161.61,226.36 L161.77,226.38 L161.93,226.40 L162.08,226.42 L162.24,226.44 L162.40,226.46 L162.55,226.49 L162.71,226.51 L162.87,226.53 L163.02,226.55 L163.18,226.57 L163.34,226.60 L163.49,226.62 L163.65,226.64 L163.81,226.66 L163.96,226.69 L164.12,226.71 L164.28,226.73 L164.43,226.75 L164.59,226.78 L164.75,226.80 L164.91,226.82 L165.06,226.84 L165.22,226.87 L165.38,226.89 L165.53,226.91 L165.69,226.94 L165.85,226.96 L166.00,226.98 L166.16,227.01 L166.32,227.03 L166.47,227.05 L166.63,227.08 L166.79,227.10 L166.94,227.12 L167.10,227.15 L167.26,227.17 L167.41,227.19 L167.57,227.22 L167.73,227.24 L167.88,227.26 L168.04,227.29 L168.20,227.31 L168.36,227.33 L168.51,227.36 L168.67,227.38 L168.83,227.41 L168.98,227.43 L169.14,227.45 L169.30,227.48 L169.45,227.50 L169.61,227.52 L169.77,227.55 L169.92,227.57 L170.08,227.59 L170.24,227.61 L170.39,227.64 L170.55,227.66 L170.71,227.68 L170.86,227.71 L171.02,227.73 L171.18,227.75 L171.34,227.77 L171.49,227.80 L171.65,227.82 L171.81,227.84 L171.96,227.86 L172.12,227.89 L172.28,227.91 L172.43,227.93 L172.59,227.95 L172.75,227.97 L172.90,227.99 L173.06,228.02 L173.22,228.04 L173.37,228.06 L173.53,228.08 L173.69,228.10 L173.84,228.12 L174.00,228.14 L174.16,228.16 L174.31,228.18 L174.47,228.20 L174.63,228.22 L174.79,228.24 L174.94,228.26 L175.10,228.28 L175.26,228.30 L175.41,228.32 L175.57,228.34 L175.73,228.35 L175.88,228.37 L176.04,228.39 L176.20,228.41 L176.35,228.42 L176.51,228.44 L176.67,228.45 L176.82,228.47 L176.98,228.48 L177.14,228.50 L177.29,228.51 L177.45,228.53 L177.61,228.54 L177.76,228.55 L177.92,228.56 L178.08,228.58 L178.24,228.59 L178.39,228.60 L178.55,228.61 L178.71,228.61 L178.86,228.62 L179.02,228.63 L179.18,228.63 L179.33,228.63 L179.49,228.64 L179.65,228.64 L179.80,228.64 L179.96,228.63 L180.12,228.63 L180.27,228.62 L180.43,228.61 L180.59,228.60 L180.74,228.58 L180.90,228.56 L181.06,228.54 L181.21,228.51 L181.37,228.48 L181.53,228.44 L181.69,228.39 L181.84,228.34 L182.00,228.27 L182.16,228.20 L182.31,228.11 L182.47,228.00 L182.63,227.88 L182.78,227.73 L182.94,227.55 L183.10,227.33 L183.25,227.07 L183.41,226.75 L183.57,226.35 L183.72,225.85 L183.88,225.20 L184.04,224.36 L184.19,223.23 L184.35,221.66 L184.51,219.43 L184.67,216.07 L184.80,211.51 L184.82,212.36 L184.98,216.17 L185.14,218.93 L185.29,221.04 L185.45,222.70 L185.61,224.06 L185.76,225.19 L185.92,226.14 L186.08,226.97 L186.23,227.69 L186.39,228.32 L186.55,228.89 L186.70,229.40 L186.86,229.87 L187.02,230.29 L187.17,230.68 L187.33,231.04 L187.49,231.38 L187.64,231.69 L187.80,231.98 L187.96,232.26 L188.12,232.52 L188.27,232.77 L188.43,233.01 L188.59,233.23 L188.74,233.44 L188.90,233.65 L189.06,233.85 L189.21,234.04 L189.37,234.22 L189.53,234.39 L189.68,234.56 L189.84,234.73 L190.00,234.89 L190.15,235.04 L190.31,235.19 L190.47,235.34 L190.62,235.48 L190.78,235.62 L190.94,235.75 L191.09,235.89 L191.25,236.01 L191.41,236.14 L191.57,236.26 L191.72,236.38 L191.88,236.50 L192.04,236.62 L192.19,236.73 L192.35,236.84 L192.51,236.95 L192.66,237.06 L192.82,237.16 L192.98,237.27 L193.13,237.37 L193.29,237.47 L193.45,237.57 L193.60,237.66 L193.76,237.76 L193.92,237.85 L194.07,237.95 L194.23,238.04 L194.39,238.13 L194.54,238.22 L194.70,238.30 L194.86,238.39 L195.02,238.47 L195.17,238.56 L195.33,238.64 L195.49,238.72 L195.64,238.80 L195.80,238.88 L195.96,238.96 L196.11,239.04 L196.27,239.12 L196.43,239.19 L196.58,239.27 L196.74,239.34 L196.90,239.42 L197.05,239.49 L197.21,239.56 L197.37,239.63 L197.52,239.70 L197.68,239.77 L197.84,239.84 L198.00,239.91 L198.15,239.98 L198.31,240.04 L198.47,240.11 L198.62,240.17 L198.78,240.24 L198.94,240.30 L199.09,240.37 L199.25,240.43 L199.41,240.49 L199.56,240.55 L199.72,240.61 L199.88,240.67 L200.03,240.73 L200.19,240.79 L200.35,240.85 L200.50,240.91 L200.66,240.97 L200.82,241.02 L200.97,241.08 L201.13,241.14 L201.29,241.19 L201.45,241.25 L201.60,241.30 L201.76,241.35 L201.92,241.41 L202.07,241.46 L202.23,241.51 L202.39,241.56 L202.54,241.62 L202.70,241.67 L202.86,241.72 L203.01,241.77 L203.17,241.82 L203.33,241.87 L203.48,241.91 L203.64,241.96 L203.80,242.01 L203.95,242.06 L204.11,242.11 L204.27,242.15 L204.42,242.20 L204.58,242.24 L204.74,242.29 L204.90,242.34 L205.05,242.38 L205.21,242.42 L205.37,242.47 L205.52,242.51 L205.68,242.56 L205.84,242.60 L205.99,242.64 L206.15,242.68 L206.31,242.72 L206.46,242.77 L206.62,242.81 L206.78,242.85 L206.93,242.89 L207.09,242.93 L207.25,242.97 L207.40,243.01 L207.56,243.05 L207.72,243.09 L207.87,243.12 L208.03,243.16 L208.19,243.20 L208.35,243.24 L208.50,243.28 L208.66,243.31 L208.82,243.35 L208.97,243.39 L209.13,243.42 L209.29,243.46 L209.44,243.49 L209.60,243.53 L209.76,243.56 L209.91,243.60 L210.07,243.63 L210.23,243.67 L210.38,243.70 L210.54,243.73 L210.70,243.77 L210.85,243.80 L211.01,243.83 L211.17,243.86 L211.33,243.90 L211.48,243.93 L211.64,243.96 L211.80,243.99 L211.95,244.02 L212.11,244.05 L212.27,244.09 L212.42,244.12 L212.58,244.15 L212.74,244.18 L212.89,244.21 L213.05,244.23 L213.21,244.26 L213.36,244.29 L213.52,244.32 L213.68,244.35 L213.83,244.38 L213.99,244.41 L214.15,244.43 L214.30,244.46 L214.46,244.49 L214.62,244.52 L214.78,244.54 L214.93,244.57 L215.09,244.60 L215.25,244.62 L215.40,244.65 L215.56,244.68 L215.72,244.70 L215.87,244.73 L216.03,244.75 L216.19,244.78 L216.34,244.80 L216.50,244.83 L216.66,244.85 L216.81,244.88 L216.97,244.90 L217.13,244.92 L217.28,244.95 L217.44,244.97 L217.60,245.00 L217.75,245.02 L217.91,245.04 L218.07,245.06 L218.23,245.09 L218.38,245.11 L218.54,245.13 L218.70,245.15 L218.85,245.18 L219.01,245.20 L219.17,245.22 L219.32,245.24 L219.48,245.26 L219.64,245.28 L219.79,245.30 L219.95,245.32 L220.11,245.35 L220.26,245.37 L220.42,245.39 L220.58,245.41 L220.73,245.43 L220.89,245.45 L221.05,245.47 L221.20,245.48 L221.36,245.50 L221.52,245.52 L221.68,245.54 L221.83,245.56 L221.99,245.58 L222.15,245.60 L222.30,245.62 L222.46,245.63 L222.62,245.65 L222.77,245.67 L222.93,245.69 L223.09,245.71 L223.24,245.72 L223.40,245.74 L223.56,245.76 L223.71,245.78 L223.87,245.79 L224.03,245.81 L224.18,245.83 L224.34,245.84 L224.50,245.86 L224.66,245.87 L224.81,245.89 L224.97,245.91 L225.13,245.92 L225.28,245.94 L225.44,245.95 L225.60,245.97 L225.75,245.99 L225.91,246.00 L226.07,246.02 L226.22,246.03 L226.38,246.05 L226.54,246.06 L226.69,246.07 L226.85,246.09 L227.01,246.10 L227.16,246.12 L227.32,246.13 L227.48,246.15 L227.63,246.16 L227.79,246.17 L227.95,246.19 L228.11,246.20 L228.26,246.21 L228.42,246.23 L228.58,246.24 L228.73,246.25 L228.89,246.27 L229.05,246.28 L229.20,246.29 L229.36,246.30 L229.52,246.32 L229.67,246.33 L229.83,246.34 L229.99,246.35 L230.14,246.37 L230.30,246.38 L230.46,246.39 L230.61,246.40 L230.77,246.41 L230.93,246.42 L231.08,246.44 L231.24,246.45 L231.40,246.46 L231.56,246.47 L231.71,246.48 L231.87,246.49 L232.03,246.50 L232.18,246.51 L232.34,246.52 L232.50,246.53 L232.65,246.55 L232.81,246.56 L232.97,246.57 L233.12,246.58 L233.28,246.59 L233.44,246.60 L233.59,246.61 L233.75,246.62 L233.91,246.63 L234.06,246.64 L234.22,246.65 L234.38,246.65 L234.53,246.66 L234.69,246.67 L234.85,246.68 L235.01,246.69 L235.16,246.70 L235.32,246.71 L235.48,246.72 L235.63,246.73 L235.79,246.74 L235.95,246.74 L236.10,246.75 L236.26,246.76 L236.42,246.77 L236.57,246.78 L236.73,246.79 L236.89,246.79 L237.04,246.80 L237.20,246.81 L237.36,246.82 L237.51,246.83 L237.67,246.83 L237.83,246.84 L237.99,246.85 L238.14,246.86 L238.30,246.86 L238.46,246.87 L238.61,246.88 L238.77,246.89 L238.93,246.89 L239.08,246.90 L239.24,246.91 L239.40,246.91 L239.55,246.92 L239.71,246.93 L239.87,246.93 L240.02,246.94 L240.18,246.95 L240.34,246.95 L240.49,246.96 L240.65,246.97 L240.81,246.97 L240.96,246.98 L241.12,246.99 L241.28,246.99 L241.44,247.00 L241.59,247.00 L241.75,247.01 L241.91,247.02 L242.06,247.02 L242.22,247.03 L242.38,247.03 L242.53,247.04 L242.69,247.04 L242.85,247.05 L243.00,247.05 L243.16,247.06 L243.32,247.06 L243.47,247.07 L243.63,247.08 L243.79,247.08 L243.94,247.09 L244.10,247.09 L244.26,247.09 L244.41,247.10 L244.57,247.10 L244.73,247.11 L244.89,247.11 L245.04,247.12 L245.20,247.12 L245.36,247.13 L245.51,247.13 L245.67,247.14 L245.83,247.14 L245.98,247.14 L246.14,247.15 L246.30,247.15 L246.45,247.16 L246.61,247.16 L246.77,247.16 L246.92,247.17 L247.08,247.17 L247.24,247.18 L247.39,247.18 L247.55,247.18 L247.71,247.19 L247.86,247.19 L248.02,247.19 L248.18,247.20 L248.34,247.20 L248.49,247.20 L248.65,247.21 L248.81,247.21 L248.96,247.21 L249.12,247.22 L249.28,247.22 L249.43,247.22 L249.59,247.23 L249.75,247.23 L249.90,247.23 L250.06,247.24 L250.22,247.24 L250.37,247.24 L250.53,247.24 L250.69,247.25 L250.84,247.25 L251.00,247.25 L251.16,247.25 L251.32,247.26 L251.47,247.26 L251.63,247.26 L251.79,247.26 L251.94,247.27 L252.10,247.27 L252.26,247.27 L252.41,247.27 L252.57,247.28 L252.73,247.28 L252.88,247.28 L253.04,247.28 L253.20,247.28 L253.35,247.29 L253.51,247.29 L253.67,247.29 L253.82,247.29 L253.98,247.29 L254.14,247.30 L254.29,247.30 L254.45,247.30 L254.61,247.30 L254.77,247.30 L254.92,247.30 L255.08,247.30 L255.24,247.31 L255.39,247.31 L255.55,247.31 L255.71,247.31 L255.86,247.31 L256.02,247.31 L256.18,247.31 L256.33,247.32 L256.49,247.32 L256.65,247.32 L256.80,247.32 L256.96,247.32 L257.12,247.32 L257.27,247.32 L257.43,247.32 L257.59,247.32 L257.74,247.32 L257.90,247.33 L258.06,247.33 L258.22,247.33 L258.37,247.33 L258.53,247.33 L258.69,247.33 L258.84,247.33 L259.00,247.33 L259.16,247.33 L259.31,247.33 L259.47,247.33 L259.63,247.33 L259.78,247.33 L259.94,247.33 L260.10,247.33 L260.25,247.33 L260.41,247.33 L260.57,247.33 L260.72,247.33 L260.88,247.34 L261.04,247.34 L261.19,247.34 L261.35,247.34 L261.51,247.34 L261.67,247.34 L261.82,247.34 L261.98,247.34 L262.14,247.34 L262.29,247.34 L262.45,247.34 L262.61,247.34 L262.76,247.34 L262.92,247.34 L263.08,247.34 L263.23,247.33 L263.39,247.33 L263.55,247.33 L263.70,247.33 L263.86,247.33 L264.02,247.33 L264.17,247.33 L264.33,247.33 L264.49,247.33 L264.65,247.33 L264.80,247.33 L264.96,247.33 L265.12,247.33 L265.27,247.33 L265.43,247.33 L265.59,247.33 L265.74,247.33 L265.90,247.33 L266.06,247.33 L266.21,247.33 L266.37,247.32 L266.53,247.32 L266.68,247.32 L266.84,247.32 L267.00,247.32 L267.15,247.32 L267.31,247.32 L267.47,247.32 L267.62,247.32 L267.78,247.32 L267.94,247.32 L268.10,247.31 L268.25,247.31 L268.41,247.31 L268.57,247.31 L268.72,247.31 L268.88,247.31 L269.04,247.31 L269.19,247.31 L269.35,247.30 L269.51,247.30 L269.66,247.30 L269.82,247.30 L269.98,247.30 L270.13,247.30 L270.29,247.30 L270.45,247.29 L270.60,247.29 L270.76,247.29 L270.92,247.29 L271.07,247.29 L271.23,247.29 L271.39,247.28 L271.55,247.28 L271.70,247.28 L271.86,247.28 L272.02,247.28 L272.17,247.27 L272.33,247.27 L272.49,247.27 L272.64,247.27 L272.80,247.27 L272.96,247.26 L273.11,247.26 L273.27,247.26 L273.43,247.26 L273.58,247.25 L273.74,247.25 L273.90,247.25 L274.05,247.25 L274.21,247.24 L274.37,247.24 L274.52,247.24 L274.68,247.24 L274.84,247.23 L275.00,247.23 L275.15,247.23 L275.31,247.22 L275.47,247.22 L275.62,247.22 L275.78,247.22 L275.94,247.21 L276.09,247.21 L276.25,247.21 L276.41,247.20 L276.56,247.20 L276.72,247.19 L276.88,247.19 L277.03,247.19 L277.19,247.18 L277.35,247.18 L277.50,247.18 L277.66,247.17 L277.82,247.17 L277.98,247.16 L278.13,247.16 L278.29,247.15 L278.45,247.15 L278.60,247.15 L278.76,247.14 L278.92,247.14 L279.07,247.13 L279.23,247.13 L279.39,247.12 L279.54,247.12 L279.70,247.11 L279.86,247.10 L280.01,247.10 L280.17,247.09 L280.33,247.09 L280.48,247.08 L280.64,247.08 L280.80,247.07 L280.95,247.06 L281.11,247.06 L281.27,247.05 L281.43,247.04 L281.58,247.04 L281.74,247.03 L281.90,247.02 L282.05,247.02 L282.21,247.01 L282.37,247.00 L282.52,246.99 L282.68,246.99 L282.84,246.98 L282.99,246.97 L283.15,246.96 L283.31,246.95 L283.46,246.94 L283.62,246.94 L283.78,246.93 L283.93,246.92 L284.09,246.91 L284.25,246.90 L284.40,246.89 L284.56,246.88 L284.72,246.87 L284.88,246.86 L285.03,246.85 L285.19,246.84 L285.35,246.83 L285.50,246.82 L285.66,246.80 L285.82,246.79 L285.97,246.78 L286.13,246.77 L286.29,246.76 L286.44,246.75 L286.60,246.73 L286.76,246.72 L286.91,246.71 L287.07,246.69 L287.23,246.68 L287.38,246.67 L287.54,246.65 L287.70,246.64 L287.85,246.62 L288.01,246.61 L288.17,246.59 L288.33,246.58 L288.48,246.56 L288.64,246.55 L288.80,246.53 L288.95,246.51 L289.11,246.50 L289.27,246.48 L289.42,246.46 L289.58,246.44 L289.74,246.43 L289.89,246.41 L290.05,246.39 L290.21,246.37 L290.36,246.35 L290.52,246.33 L290.68,246.31 L290.83,246.29 L290.99,246.27 L291.15,246.25 L291.31,246.23 L291.46,246.21 L291.62,246.19 L291.78,246.16 L291.93,246.14 L292.09,246.12 L292.25,246.09 L292.40,246.07 L292.56,246.05 L292.72,246.02 L292.87,246.00 L293.03,245.97 L293.19,245.94 L293.34,245.92 L293.50,245.89 L293.66,245.86 L293.81,245.84 L293.97,245.81 L294.13,245.78 L294.28,245.75 L294.44,245.72 L294.60,245.69 L294.76,245.66 L294.91,245.63 L295.07,245.60 L295.23,245.57 L295.38,245.53 L295.54,245.50 L295.70,245.47 L295.85,245.43 L296.01,245.40 L296.17,245.37 L296.32,245.33 L296.48,245.29 L296.64,245.26 L296.79,245.22 L296.95,245.18 L297.11,245.14 L297.26,245.10 L297.42,245.07 L297.58,245.02 L297.73,244.98 L297.89,244.94 L298.05,244.90 L298.21,244.86 L298.36,244.81 L298.52,244.77 L298.68,244.73 L298.83,244.68 L298.99,244.63 L299.15,244.59 L299.30,244.54 L299.46,244.49 L299.62,244.44 L299.77,244.39 L299.93,244.34 L300.09,244.29 L300.24,244.24 L300.40,244.18 L300.56,244.13 L300.71,244.08 L300.87,244.02 L301.03,243.96 L301.18,243.91 L301.34,243.85 L301.50,243.79 L301.66,243.73 L301.81,243.67 L301.97,243.61 L302.13,243.54 L302.28,243.48 L302.44,243.41 L302.60,243.35 L302.75,243.28 L302.91,243.21 L303.07,243.14 L303.22,243.07 L303.38,243.00 L303.54,242.93 L303.69,242.86 L303.85,242.78 L304.01,242.71 L304.16,242.63 L304.32,242.55 L304.48,242.47 L304.64,242.39 L304.79,242.31 L304.95,242.22 L305.11,242.14 L305.26,242.05 L305.42,241.96 L305.58,241.87 L305.73,241.78 L305.89,241.69 L306.05,241.60 L306.20,241.50 L306.36,241.41 L306.52,241.31 L306.67,241.21 L306.83,241.11 L306.99,241.00 L307.14,240.90 L307.30,240.79 L307.46,240.68 L307.61,240.57 L307.77,240.46 L307.93,240.34 L308.09,240.23 L308.24,240.11 L308.40,239.99 L308.56,239.87 L308.71,239.74 L308.87,239.62 L309.03,239.49 L309.18,239.36 L309.34,239.22 L309.50,239.09 L309.65,238.95 L309.81,238.81 L309.97,238.66 L310.12,238.52 L310.28,238.37 L310.44,238.22 L310.59,238.07 L310.75,237.91 L310.91,237.75 L311.06,237.59 L311.22,237.43 L311.38,237.26 L311.54,237.09 L311.69,236.91 L311.85,236.74 L312.01,236.56 L312.16,236.37 L312.32,236.19 L312.48,236.00 L312.63,235.80 L312.79,235.61 L312.95,235.41 L313.10,235.20 L313.26,234.99 L313.42,234.78 L313.57,234.57 L313.73,234.35 L313.89,234.12 L314.04,233.89 L314.20,233.66 L314.36,233.42 L314.51,233.18 L314.67,232.94 L314.83,232.69 L314.99,232.43 L315.14,232.17 L315.30,231.91 L315.46,231.64 L315.61,231.36 L315.77,231.08 L315.93,230.80 L316.08,230.51 L316.24,230.21 L316.40,229.91 L316.55,229.60 L316.71,229.29 L316.87,228.97 L317.02,228.65 L317.18,228.32 L317.34,227.98 L317.49,227.64 L317.65,227.29 L317.81,226.93 L317.97,226.57 L318.12,226.20 L318.28,225.82 L318.44,225.44 L318.59,225.05 L318.75,224.66 L318.91,224.25 L319.06,223.84 L319.22,223.43 L319.38,223.00 L319.53,222.57 L319.69,222.13 L319.85,221.69 L320.00,221.23 L320.16,220.77 L320.32,220.31 L320.47,219.83 L320.63,219.35 L320.79,218.86 L320.94,218.36 L321.10,217.85 L321.26,217.34 L321.42,216.82 L321.57,216.30 L321.73,215.76 L321.89,215.22 L322.04,214.68 L322.20,214.12 L322.36,213.56 L322.51,213.00 L322.67,212.43 L322.83,211.85 L322.98,211.27 L323.14,210.68 L323.30,210.09 L323.45,209.49 L323.61,208.89 L323.77,208.28 L323.92,207.68 L324.08,207.07 L324.24,206.46 L324.39,205.84 L324.55,205.23 L324.71,204.62 L324.87,204.01 L325.02,203.39 L325.18,202.79 L325.34,202.18 L325.49,201.58 L325.65,200.98 L325.81,200.39 L325.96,199.80 L326.12,199.22 L326.28,198.65 L326.43,198.09 L326.59,197.54 L326.75,197.00 L326.90,196.48 L327.06,195.97 L327.22,195.47 L327.37,194.99 L327.53,194.52 L327.69,194.08 L327.84,193.65 L328.00,193.24 L328.16,192.85 L328.32,192.49 L328.47,192.15 L328.63,191.83 L328.79,191.53 L328.94,191.27 L329.10,191.02 L329.26,190.81 L329.41,190.62 L329.57,190.46 L329.73,190.33 L329.88,190.23 L330.04,190.15 L330.20,190.11 L330.35,190.10 L330.51,190.11 L330.67,190.16 L330.82,190.25 L330.98,190.37 L331.14,190.52 L331.30,190.70 L331.45,190.91 L331.61,191.16 L331.77,191.43 L331.92,191.74 L332.08,192.07 L332.24,192.43 L332.39,192.81 L332.55,193.23 L332.71,193.66 L332.86,194.12 L333.02,194.60 L333.18,195.10 L333.33,195.62 L333.49,196.15 L333.65,196.71 L333.80,197.27 L333.96,197.86 L334.12,198.45 L334.27,199.06 L334.43,199.67 L334.59,200.29 L334.75,200.93 L334.90,201.56 L335.06,202.21 L335.22,202.86 L335.37,203.51 L335.53,204.16 L335.69,204.81 L335.84,205.47 L336.00,206.12 L336.16,206.78 L336.31,207.43 L336.47,208.08 L336.63,208.73 L336.78,209.37 L336.94,210.01 L337.10,210.64 L337.25,211.27 L337.41,211.89 L337.57,212.51 L337.72,213.12 L337.88,213.72 L338.04,214.32 L338.20,214.91 L338.35,215.49 L338.51,216.07 L338.67,216.63 L338.82,217.19 L338.98,217.74 L339.14,218.28 L339.29,218.82 L339.45,219.34 L339.61,219.86 L339.76,220.37 L339.92,220.87 L340.08,221.36 L340.23,221.84 L340.39,222.32 L340.55,222.78 L340.70,223.24 L340.86,223.69 L341.02,224.14 L341.17,224.57 L341.33,225.00 L341.49,225.41 L341.65,225.82 L341.80,226.23 L341.96,226.62 L342.12,227.01 L342.27,227.39 L342.43,227.76 L342.59,228.13 L342.74,228.49 L342.90,228.84" fill="none" stroke="#ff0000" stroke-width="2.30" stroke-linejoin="round" stroke-dasharray="6.5 3.3 2 3.3 2 3.3"/>
<path d="M76.30,228.98 L76.46,228.98 L76.61,228.98 L76.77,228.98 L76.93,228.97 L77.08,228.97 L77.24,228.97 L77.40,228.97 L77.55,228.96 L77.71,228.96 L77.87,228.96 L78.03,228.95 L78.18,228.95 L78.34,228.95 L78.50,228.95 L78.65,228.94 L78.81,228.94 L78.97,228.94 L79.12,228.93 L79.28,228.93 L79.44,228.93 L79.59,228.92 L79.75,228.92 L79.91,228.92 L80.06,228.91 L80.22,228.91 L80.38,228.91 L80.53,228.90 L80.69,228.90 L80.85,228.90 L81.00,228.89 L81.16,228.89 L81.32,228.88 L81.48,228.88 L81.63,228.88 L81.79,228.87 L81.95,228.87 L82.10,228.86 L82.26,228.86 L82.42,228.86 L82.57,228.85 L82.73,228.85 L82.89,228.84 L83.04,228.84 L83.20,228.83 L83.36,228.83 L83.51,228.82 L83.67,228.82 L83.83,228.81 L83.98,228.81 L84.14,228.80 L84.30,228.80 L84.45,228.79 L84.61,228.79 L84.77,228.78 L84.93,228.78 L85.08,228.77 L85.24,228.77 L85.40,228.76 L85.55,228.75 L85.71,228.75 L85.87,228.74 L86.02,228.74 L86.18,228.73 L86.34,228.72 L86.49,228.72 L86.65,228.71 L86.81,228.70 L86.96,228.70 L87.12,228.69 L87.28,228.68 L87.43,228.68 L87.59,228.67 L87.75,228.66 L87.90,228.66 L88.06,228.65 L88.22,228.64 L88.38,228.63 L88.53,228.63 L88.69,228.62 L88.85,228.61 L89.00,228.60 L89.16,228.59 L89.32,228.59 L89.47,228.58 L89.63,228.57 L89.79,228.56 L89.94,228.55 L90.10,228.54 L90.26,228.53 L90.41,228.53 L90.57,228.52 L90.73,228.51 L90.88,228.50 L91.04,228.49 L91.20,228.48 L91.36,228.47 L91.51,228.46 L91.67,228.45 L91.83,228.44 L91.98,228.43 L92.14,228.42 L92.30,228.41 L92.45,228.40 L92.61,228.39 L92.77,228.37 L92.92,228.36 L93.08,228.35 L93.24,228.34 L93.39,228.33 L93.55,228.32 L93.71,228.30 L93.86,228.29 L94.02,228.28 L94.18,228.27 L94.33,228.26 L94.49,228.24 L94.65,228.23 L94.81,228.22 L94.96,228.20 L95.12,228.19 L95.28,228.18 L95.43,228.16 L95.59,228.15 L95.75,228.14 L95.90,228.12 L96.06,228.11 L96.22,228.09 L96.37,228.08 L96.53,228.06 L96.69,228.05 L96.84,228.03 L97.00,228.02 L97.16,228.00 L97.31,227.99 L97.47,227.97 L97.63,227.95 L97.78,227.94 L97.94,227.92 L98.10,227.90 L98.26,227.89 L98.41,227.87 L98.57,227.85 L98.73,227.83 L98.88,227.82 L99.04,227.80 L99.20,227.78 L99.35,227.76 L99.51,227.74 L99.67,227.72 L99.82,227.70 L99.98,227.68 L100.14,227.67 L100.29,227.65 L100.45,227.63 L100.61,227.61 L100.76,227.59 L100.92,227.56 L101.08,227.54 L101.23,227.52 L101.39,227.50 L101.55,227.48 L101.71,227.46 L101.86,227.44 L102.02,227.41 L102.18,227.39 L102.33,227.37 L102.49,227.34 L102.65,227.32 L102.80,227.30 L102.96,227.27 L103.12,227.25 L103.27,227.23 L103.43,227.20 L103.59,227.18 L103.74,227.15 L103.90,227.13 L104.06,227.10 L104.21,227.08 L104.37,227.05 L104.53,227.02 L104.69,227.00 L104.84,226.97 L105.00,226.94 L105.16,226.91 L105.31,226.89 L105.47,226.86 L105.63,226.83 L105.78,226.80 L105.94,226.77 L106.10,226.74 L106.25,226.72 L106.41,226.69 L106.57,226.66 L106.72,226.63 L106.88,226.59 L107.04,226.56 L107.19,226.53 L107.35,226.50 L107.51,226.47 L107.66,226.44 L107.82,226.41 L107.98,226.37 L108.14,226.34 L108.29,226.31 L108.45,226.27 L108.61,226.24 L108.76,226.21 L108.92,226.17 L109.08,226.14 L109.23,226.10 L109.39,226.07 L109.55,226.03 L109.70,225.99 L109.86,225.96 L110.02,225.92 L110.17,225.88 L110.33,225.85 L110.49,225.81 L110.64,225.77 L110.80,225.73 L110.96,225.70 L111.11,225.66 L111.27,225.62 L111.43,225.58 L111.59,225.54 L111.74,225.50 L111.90,225.46 L112.06,225.42 L112.21,225.38 L112.37,225.33 L112.53,225.29 L112.68,225.25 L112.84,225.21 L113.00,225.17 L113.15,225.12 L113.31,225.08 L113.47,225.04 L113.62,224.99 L113.78,224.95 L113.94,224.90 L114.09,224.86 L114.25,224.81 L114.41,224.77 L114.56,224.72 L114.72,224.67 L114.88,224.63 L115.04,224.58 L115.19,224.53 L115.35,224.48 L115.51,224.44 L115.66,224.39 L115.82,224.34 L115.98,224.29 L116.13,224.24 L116.29,224.19 L116.45,224.14 L116.60,224.09 L116.76,224.04 L116.92,223.99 L117.07,223.94 L117.23,223.88 L117.39,223.83 L117.54,223.78 L117.70,223.73 L117.86,223.67 L118.02,223.62 L118.17,223.57 L118.33,223.51 L118.49,223.46 L118.64,223.40 L118.80,223.35 L118.96,223.29 L119.11,223.23 L119.27,223.18 L119.43,223.12 L119.58,223.06 L119.74,223.01 L119.90,222.95 L120.05,222.89 L120.21,222.83 L120.37,222.77 L120.52,222.72 L120.68,222.66 L120.84,222.60 L120.99,222.54 L121.15,222.48 L121.31,222.42 L121.47,222.35 L121.62,222.29 L121.78,222.23 L121.94,222.17 L122.09,222.11 L122.25,222.05 L122.41,221.98 L122.56,221.92 L122.72,221.86 L122.88,221.79 L123.03,221.73 L123.19,221.66 L123.35,221.60 L123.50,221.53 L123.66,221.47 L123.82,221.40 L123.97,221.34 L124.13,221.27 L124.29,221.20 L124.44,221.14 L124.60,221.07 L124.76,221.00 L124.92,220.94 L125.07,220.87 L125.23,220.80 L125.39,220.73 L125.54,220.66 L125.70,220.59 L125.86,220.52 L126.01,220.45 L126.17,220.38 L126.33,220.31 L126.48,220.24 L126.64,220.17 L126.80,220.10 L126.95,220.03 L127.11,219.96 L127.27,219.89 L127.42,219.82 L127.58,219.74 L127.74,219.67 L127.89,219.60 L128.05,219.53 L128.21,219.45 L128.37,219.38 L128.52,219.31 L128.68,219.23 L128.84,219.16 L128.99,219.08 L129.15,219.01 L129.31,218.94 L129.46,218.86 L129.62,218.79 L129.78,218.71 L129.93,218.64 L130.09,218.56 L130.25,218.48 L130.40,218.41 L130.56,218.33 L130.72,218.26 L130.87,218.18 L131.03,218.10 L131.19,218.03 L131.35,217.95 L131.50,217.87 L131.66,217.80 L131.82,217.72 L131.97,217.64 L132.13,217.56 L132.29,217.49 L132.44,217.41 L132.60,217.33 L132.76,217.25 L132.91,217.18 L133.07,217.10 L133.23,217.02 L133.38,216.94 L133.54,216.86 L133.70,216.78 L133.85,216.71 L134.01,216.63 L134.17,216.55 L134.32,216.47 L134.48,216.39 L134.64,216.31 L134.80,216.23 L134.95,216.15 L135.11,216.07 L135.27,216.00 L135.42,215.92 L135.58,215.84 L135.74,215.76 L135.89,215.68 L136.05,215.60 L136.21,215.52 L136.36,215.44 L136.52,215.36 L136.68,215.28 L136.83,215.20 L136.99,215.13 L137.15,215.05 L137.30,214.97 L137.46,214.89 L137.62,214.81 L137.77,214.73 L137.93,214.65 L138.09,214.57 L138.25,214.50 L138.40,214.42 L138.56,214.34 L138.72,214.26 L138.87,214.18 L139.03,214.10 L139.19,214.03 L139.34,213.95 L139.50,213.87 L139.66,213.79 L139.81,213.72 L139.97,213.64 L140.13,213.56 L140.28,213.48 L140.44,213.41 L140.60,213.33 L140.75,213.25 L140.91,213.18 L141.07,213.10 L141.22,213.02 L141.38,212.95 L141.54,212.87 L141.70,212.80 L141.85,212.72 L142.01,212.65 L142.17,212.57 L142.32,212.50 L142.48,212.42 L142.64,212.35 L142.79,212.28 L142.95,212.20 L143.11,212.13 L143.26,212.06 L143.42,211.98 L143.58,211.91 L143.73,211.84 L143.89,211.77 L144.05,211.70 L144.20,211.62 L144.36,211.55 L144.52,211.48 L144.68,211.41 L144.83,211.34 L144.99,211.27 L145.15,211.20 L145.30,211.14 L145.46,211.07 L145.62,211.00 L145.77,210.93 L145.93,210.86 L146.09,210.80 L146.24,210.73 L146.40,210.66 L146.56,210.60 L146.71,210.53 L146.87,210.47 L147.03,210.40 L147.18,210.34 L147.34,210.27 L147.50,210.21 L147.65,210.15 L147.81,210.08 L147.97,210.02 L148.13,209.96 L148.28,209.90 L148.44,209.84 L148.60,209.78 L148.75,209.72 L148.91,209.66 L149.07,209.60 L149.22,209.54 L149.38,209.48 L149.54,209.43 L149.69,209.37 L149.85,209.31 L150.01,209.26 L150.16,209.20 L150.32,209.15 L150.48,209.09 L150.63,209.04 L150.79,208.99 L150.95,208.94 L151.10,208.88 L151.26,208.83 L151.42,208.78 L151.58,208.73 L151.73,208.68 L151.89,208.63 L152.05,208.58 L152.20,208.54 L152.36,208.49 L152.52,208.44 L152.67,208.40 L152.83,208.35 L152.99,208.30 L153.14,208.26 L153.30,208.22 L153.46,208.17 L153.61,208.13 L153.77,208.09 L153.93,208.05 L154.08,208.01 L154.24,207.97 L154.40,207.93 L154.55,207.89 L154.71,207.85 L154.87,207.81 L155.03,207.78 L155.18,207.74 L155.34,207.71 L155.50,207.67 L155.65,207.64 L155.81,207.61 L155.97,207.57 L156.12,207.54 L156.28,207.51 L156.44,207.48 L156.59,207.45 L156.75,207.42 L156.91,207.39 L157.06,207.36 L157.22,207.34 L157.38,207.31 L157.53,207.29 L157.69,207.26 L157.85,207.24 L158.01,207.21 L158.16,207.19 L158.32,207.17 L158.48,207.15 L158.63,207.13 L158.79,207.11 L158.95,207.09 L159.10,207.07 L159.26,207.05 L159.42,207.03 L159.57,207.02 L159.73,207.00 L159.89,206.99 L160.04,206.97 L160.20,206.96 L160.36,206.95 L160.51,206.94 L160.67,206.92 L160.83,206.91 L160.98,206.90 L161.14,206.90 L161.30,206.89 L161.46,206.88 L161.61,206.87 L161.77,206.87 L161.93,206.86 L162.08,206.86 L162.24,206.85 L162.40,206.85 L162.55,206.85 L162.71,206.85 L162.87,206.85 L163.02,206.85 L163.18,206.85 L163.34,206.85 L163.49,206.85 L163.65,206.85 L163.81,206.86 L163.96,206.86 L164.12,206.87 L164.28,206.87 L164.43,206.88 L164.59,206.88 L164.75,206.89 L164.91,206.90 L165.06,206.91 L165.22,206.92 L165.38,206.93 L165.53,206.94 L165.69,206.95 L165.85,206.97 L166.00,206.98 L166.16,206.99 L166.32,207.01 L166.47,207.02 L166.63,207.04 L166.79,207.06 L166.94,207.08 L167.10,207.09 L167.26,207.11 L167.41,207.13 L167.57,207.15 L167.73,207.17 L167.88,207.19 L168.04,207.22 L168.20,207.24 L168.36,207.26 L168.51,207.29 L168.67,207.31 L168.83,207.33 L168.98,207.36 L169.14,207.39 L169.30,207.41 L169.45,207.44 L169.61,207.47 L169.77,207.50 L169.92,207.53 L170.08,207.56 L170.24,207.59 L170.39,207.62 L170.55,207.65 L170.71,207.68 L170.86,207.71 L171.02,207.74 L171.18,207.78 L171.34,207.81 L171.49,207.84 L171.65,207.88 L171.81,207.91 L171.96,207.95 L172.12,207.98 L172.28,208.02 L172.43,208.05 L172.59,208.09 L172.75,208.13 L172.90,208.16 L173.06,208.20 L173.22,208.24 L173.37,208.27 L173.53,208.31 L173.69,208.35 L173.84,208.39 L174.00,208.42 L174.16,208.46 L174.31,208.50 L174.47,208.54 L174.63,208.57 L174.79,208.61 L174.94,208.65 L175.10,208.69 L175.26,208.72 L175.41,208.76 L175.57,208.80 L175.73,208.83 L175.88,208.87 L176.04,208.90 L176.20,208.93 L176.35,208.97 L176.51,209.00 L176.67,209.03 L176.82,209.06 L176.98,209.09 L177.14,209.11 L177.29,209.14 L177.45,209.16 L177.61,209.19 L177.76,209.21 L177.92,209.22 L178.08,209.24 L178.24,209.25 L178.39,209.26 L178.55,209.26 L178.71,209.27 L178.86,209.26 L179.02,209.26 L179.18,209.24 L179.33,209.23 L179.49,209.20 L179.65,209.17 L179.80,209.13 L179.96,209.08 L180.12,209.02 L180.27,208.95 L180.43,208.87 L180.59,208.77 L180.74,208.66 L180.90,208.53 L181.06,208.37 L181.21,208.20 L181.37,207.99 L181.53,207.76 L181.69,207.49 L181.84,207.17 L182.00,206.81 L182.16,206.39 L182.31,205.90 L182.47,205.33 L182.63,204.66 L182.78,203.88 L182.94,202.95 L183.10,201.85 L183.25,200.54 L183.41,198.96 L183.57,197.04 L183.72,194.70 L183.88,191.79 L184.04,188.15 L184.19,183.52 L184.35,177.54 L184.51,169.66 L184.67,159.04 L184.80,146.39 L184.82,148.05 L184.98,159.30 L185.14,167.37 L185.29,173.45 L185.45,178.20 L185.61,182.04 L185.76,185.22 L185.92,187.90 L186.08,190.20 L186.23,192.20 L186.39,193.98 L186.55,195.56 L186.70,196.98 L186.86,198.28 L187.02,199.47 L187.17,200.57 L187.33,201.58 L187.49,202.53 L187.64,203.42 L187.80,204.26 L187.96,205.06 L188.12,205.81 L188.27,206.53 L188.43,207.21 L188.59,207.86 L188.74,208.49 L188.90,209.09 L189.06,209.68 L189.21,210.24 L189.37,210.78 L189.53,211.31 L189.68,211.81 L189.84,212.31 L190.00,212.79 L190.15,213.26 L190.31,213.71 L190.47,214.16 L190.62,214.59 L190.78,215.01 L190.94,215.42 L191.09,215.83 L191.25,216.22 L191.41,216.61 L191.57,216.99 L191.72,217.36 L191.88,217.72 L192.04,218.08 L192.19,218.43 L192.35,218.78 L192.51,219.11 L192.66,219.45 L192.82,219.77 L192.98,220.09 L193.13,220.41 L193.29,220.72 L193.45,221.02 L193.60,221.32 L193.76,221.62 L193.92,221.91 L194.07,222.19 L194.23,222.48 L194.39,222.75 L194.54,223.03 L194.70,223.30 L194.86,223.56 L195.02,223.82 L195.17,224.08 L195.33,224.34 L195.49,224.59 L195.64,224.83 L195.80,225.08 L195.96,225.32 L196.11,225.56 L196.27,225.79 L196.43,226.02 L196.58,226.25 L196.74,226.47 L196.90,226.70 L197.05,226.91 L197.21,227.13 L197.37,227.34 L197.52,227.55 L197.68,227.76 L197.84,227.97 L198.00,228.17 L198.15,228.37 L198.31,228.57 L198.47,228.76 L198.62,228.95 L198.78,229.14 L198.94,229.33 L199.09,229.52 L199.25,229.70 L199.41,229.88 L199.56,230.06 L199.72,230.23 L199.88,230.41 L200.03,230.58 L200.19,230.75 L200.35,230.92 L200.50,231.08 L200.66,231.25 L200.82,231.41 L200.97,231.57 L201.13,231.73 L201.29,231.88 L201.45,232.04 L201.60,232.19 L201.76,232.34 L201.92,232.49 L202.07,232.64 L202.23,232.78 L202.39,232.93 L202.54,233.07 L202.70,233.21 L202.86,233.35 L203.01,233.48 L203.17,233.62 L203.33,233.75 L203.48,233.88 L203.64,234.01 L203.80,234.14 L203.95,234.27 L204.11,234.40 L204.27,234.52 L204.42,234.64 L204.58,234.77 L204.74,234.89 L204.90,235.01 L205.05,235.12 L205.21,235.24 L205.37,235.35 L205.52,235.47 L205.68,235.58 L205.84,235.69 L205.99,235.80 L206.15,235.91 L206.31,236.01 L206.46,236.12 L206.62,236.22 L206.78,236.33 L206.93,236.43 L207.09,236.53 L207.25,236.63 L207.40,236.73 L207.56,236.82 L207.72,236.92 L207.87,237.02 L208.03,237.11 L208.19,237.20 L208.35,237.29 L208.50,237.39 L208.66,237.47 L208.82,237.56 L208.97,237.65 L209.13,237.74 L209.29,237.82 L209.44,237.91 L209.60,237.99 L209.76,238.07 L209.91,238.16 L210.07,238.24 L210.23,238.32 L210.38,238.39 L210.54,238.47 L210.70,238.55 L210.85,238.63 L211.01,238.70 L211.17,238.77 L211.33,238.85 L211.48,238.92 L211.64,238.99 L211.80,239.06 L211.95,239.13 L212.11,239.20 L212.27,239.27 L212.42,239.34 L212.58,239.41 L212.74,239.47 L212.89,239.54 L213.05,239.60 L213.21,239.66 L213.36,239.73 L213.52,239.79 L213.68,239.85 L213.83,239.91 L213.99,239.97 L214.15,240.03 L214.30,240.09 L214.46,240.15 L214.62,240.20 L214.78,240.26 L214.93,240.32 L215.09,240.37 L215.25,240.43 L215.40,240.48 L215.56,240.53 L215.72,240.58 L215.87,240.64 L216.03,240.69 L216.19,240.74 L216.34,240.79 L216.50,240.84 L216.66,240.89 L216.81,240.93 L216.97,240.98 L217.13,241.03 L217.28,241.07 L217.44,241.12 L217.60,241.17 L217.75,241.21 L217.91,241.25 L218.07,241.30 L218.23,241.34 L218.38,241.38 L218.54,241.42 L218.70,241.47 L218.85,241.51 L219.01,241.55 L219.17,241.59 L219.32,241.63 L219.48,241.66 L219.64,241.70 L219.79,241.74 L219.95,241.78 L220.11,241.81 L220.26,241.85 L220.42,241.89 L220.58,241.92 L220.73,241.96 L220.89,241.99 L221.05,242.02 L221.20,242.06 L221.36,242.09 L221.52,242.12 L221.68,242.16 L221.83,242.19 L221.99,242.22 L222.15,242.25 L222.30,242.28 L222.46,242.31 L222.62,242.34 L222.77,242.37 L222.93,242.40 L223.09,242.42 L223.24,242.45 L223.40,242.48 L223.56,242.51 L223.71,242.53 L223.87,242.56 L224.03,242.59 L224.18,242.61 L224.34,242.64 L224.50,242.66 L224.66,242.68 L224.81,242.71 L224.97,242.73 L225.13,242.76 L225.28,242.78 L225.44,242.80 L225.60,242.82 L225.75,242.84 L225.91,242.87 L226.07,242.89 L226.22,242.91 L226.38,242.93 L226.54,242.95 L226.69,242.97 L226.85,242.99 L227.01,243.01 L227.16,243.02 L227.32,243.04 L227.48,243.06 L227.63,243.08 L227.79,243.10 L227.95,243.11 L228.11,243.13 L228.26,243.15 L228.42,243.16 L228.58,243.18 L228.73,243.19 L228.89,243.21 L229.05,243.22 L229.20,243.24 L229.36,243.25 L229.52,243.27 L229.67,243.28 L229.83,243.29 L229.99,243.31 L230.14,243.32 L230.30,243.33 L230.46,243.34 L230.61,243.35 L230.77,243.37 L230.93,243.38 L231.08,243.39 L231.24,243.40 L231.40,243.41 L231.56,243.42 L231.71,243.43 L231.87,243.44 L232.03,243.45 L232.18,243.46 L232.34,243.47 L232.50,243.47 L232.65,243.48 L232.81,243.49 L232.97,243.50 L233.12,243.51 L233.28,243.51 L233.44,243.52 L233.59,243.53 L233.75,243.53 L233.91,243.54 L234.06,243.54 L234.22,243.55 L234.38,243.55 L234.53,243.56 L234.69,243.56 L234.85,243.57 L235.01,243.57 L235.16,243.58 L235.32,243.58 L235.48,243.58 L235.63,243.59 L235.79,243.59 L235.95,243.59 L236.10,243.60 L236.26,243.60 L236.42,243.60 L236.57,243.60 L236.73,243.60 L236.89,243.60 L237.04,243.60 L237.20,243.60 L237.36,243.60 L237.51,243.60 L237.67,243.60 L237.83,243.60 L237.99,243.60 L238.14,243.60 L238.30,243.60 L238.46,243.60 L238.61,243.60 L238.77,243.60 L238.93,243.59 L239.08,243.59 L239.24,243.59 L239.40,243.59 L239.55,243.58 L239.71,243.58 L239.87,243.57 L240.02,243.57 L240.18,243.57 L240.34,243.56 L240.49,243.56 L240.65,243.55 L240.81,243.55 L240.96,243.54 L241.12,243.53 L241.28,243.53 L241.44,243.52 L241.59,243.51 L241.75,243.51 L241.91,243.50 L242.06,243.49 L242.22,243.48 L242.38,243.48 L242.53,243.47 L242.69,243.46 L242.85,243.45 L243.00,243.44 L243.16,243.43 L243.32,243.42 L243.47,243.41 L243.63,243.40 L243.79,243.39 L243.94,243.38 L244.10,243.37 L244.26,243.36 L244.41,243.34 L244.57,243.33 L244.73,243.32 L244.89,243.31 L245.04,243.29 L245.20,243.28 L245.36,243.27 L245.51,243.25 L245.67,243.24 L245.83,243.22 L245.98,243.21 L246.14,243.19 L246.30,243.18 L246.45,243.16 L246.61,243.14 L246.77,243.13 L246.92,243.11 L247.08,243.09 L247.24,243.07 L247.39,243.05 L247.55,243.04 L247.71,243.02 L247.86,243.00 L248.02,242.98 L248.18,242.96 L248.34,242.94 L248.49,242.92 L248.65,242.89 L248.81,242.87 L248.96,242.85 L249.12,242.83 L249.28,242.80 L249.43,242.78 L249.59,242.76 L249.75,242.73 L249.90,242.71 L250.06,242.68 L250.22,242.66 L250.37,242.63 L250.53,242.60 L250.69,242.58 L250.84,242.55 L251.00,242.52 L251.16,242.49 L251.32,242.46 L251.47,242.43 L251.63,242.40 L251.79,242.37 L251.94,242.34 L252.10,242.31 L252.26,242.27 L252.41,242.24 L252.57,242.21 L252.73,242.17 L252.88,242.14 L253.04,242.10 L253.20,242.06 L253.35,242.03 L253.51,241.99 L253.67,241.95 L253.82,241.91 L253.98,241.87 L254.14,241.83 L254.29,241.79 L254.45,241.75 L254.61,241.70 L254.77,241.66 L254.92,241.62 L255.08,241.57 L255.24,241.52 L255.39,241.48 L255.55,241.43 L255.71,241.38 L255.86,241.33 L256.02,241.28 L256.18,241.23 L256.33,241.17 L256.49,241.12 L256.65,241.06 L256.80,241.01 L256.96,240.95 L257.12,240.89 L257.27,240.83 L257.43,240.77 L257.59,240.71 L257.74,240.64 L257.90,240.58 L258.06,240.51 L258.22,240.44 L258.37,240.37 L258.53,240.30 L258.69,240.23 L258.84,240.16 L259.00,240.08 L259.16,240.00 L259.31,239.93 L259.47,239.85 L259.63,239.76 L259.78,239.68 L259.94,239.59 L260.10,239.50 L260.25,239.41 L260.41,239.32 L260.57,239.23 L260.72,239.13 L260.88,239.03 L261.04,238.93 L261.19,238.82 L261.35,238.72 L261.51,238.61 L261.67,238.50 L261.82,238.38 L261.98,238.27 L262.14,238.14 L262.29,238.02 L262.45,237.89 L262.61,237.76 L262.76,237.63 L262.92,237.49 L263.08,237.35 L263.23,237.21 L263.39,237.06 L263.55,236.91 L263.70,236.75 L263.86,236.59 L264.02,236.43 L264.17,236.26 L264.33,236.09 L264.49,235.91 L264.65,235.72 L264.80,235.53 L264.96,235.34 L265.12,235.14 L265.27,234.93 L265.43,234.72 L265.59,234.51 L265.74,234.28 L265.90,234.05 L266.06,233.81 L266.21,233.57 L266.37,233.31 L266.53,233.06 L266.68,232.79 L266.84,232.51 L267.00,232.23 L267.15,231.93 L267.31,231.63 L267.47,231.32 L267.62,231.00 L267.78,230.66 L267.94,230.32 L268.10,229.97 L268.25,229.60 L268.41,229.22 L268.57,228.83 L268.72,228.43 L268.88,228.01 L269.04,227.58 L269.19,227.13 L269.35,226.67 L269.51,226.20 L269.66,225.70 L269.82,225.19 L269.98,224.66 L270.13,224.12 L270.29,223.55 L270.45,222.96 L270.60,222.36 L270.76,221.73 L270.92,221.08 L271.07,220.40 L271.23,219.70 L271.39,218.97 L271.55,218.22 L271.70,217.43 L271.86,216.62 L272.02,215.78 L272.17,214.90 L272.33,213.99 L272.49,213.05 L272.64,212.06 L272.80,211.04 L272.96,209.98 L273.11,208.88 L273.27,207.73 L273.43,206.54 L273.58,205.30 L273.74,204.01 L273.90,202.67 L274.05,201.27 L274.21,199.82 L274.37,198.31 L274.52,196.73 L274.68,195.10 L274.84,193.39 L275.00,191.62 L275.15,189.77 L275.31,187.85 L275.47,185.85 L275.62,183.78 L275.78,181.62 L275.94,179.37 L276.09,177.04 L276.25,174.62 L276.41,172.10 L276.56,169.50 L276.72,166.79 L276.88,164.00 L277.03,161.11 L277.19,158.12 L277.35,155.04 L277.50,151.86 L277.66,148.60 L277.82,145.25 L277.98,141.83 L278.13,138.33 L278.29,134.76 L278.45,131.14 L278.60,127.48 L278.76,123.79 L278.92,120.09 L279.07,116.40 L279.23,112.73 L279.39,109.11 L279.54,105.56 L279.70,102.11 L279.86,98.79 L280.01,95.63 L280.17,92.65 L280.33,89.88 L280.48,87.36 L280.64,85.11 L280.80,83.16 L280.95,81.53 L281.11,80.24 L281.27,79.31 L281.43,78.75 L281.58,78.57 L281.74,78.97 L281.90,80.13 L282.05,82.03 L282.21,84.61 L282.37,87.82 L282.52,91.57 L282.68,95.79 L282.84,100.38 L282.99,105.27 L283.15,110.37 L283.31,115.61 L283.46,120.91 L283.62,126.22 L283.78,131.48 L283.93,136.66 L284.09,141.72 L284.25,146.64 L284.40,151.39 L284.56,155.96 L284.72,160.34 L284.88,164.53 L285.03,168.52 L285.19,172.32 L285.35,175.94 L285.50,179.36 L285.66,182.61 L285.82,185.68 L285.97,188.59 L286.13,191.34 L286.29,193.95 L286.44,196.41 L286.60,198.73 L286.76,200.93 L286.91,203.01 L287.07,204.98 L287.23,206.84 L287.38,208.60 L287.54,210.27 L287.70,211.85 L287.85,213.35 L288.01,214.77 L288.17,216.11 L288.33,217.39 L288.48,218.60 L288.64,219.76 L288.80,220.85 L288.95,221.90 L289.11,222.89 L289.27,223.83 L289.42,224.73 L289.58,225.59 L289.74,226.41 L289.89,227.19 L290.05,227.93 L290.21,228.65 L290.36,229.33 L290.52,229.98 L290.68,230.60 L290.83,231.20 L290.99,231.77 L291.15,232.31 L291.31,232.84 L291.46,233.34 L291.62,233.82 L291.78,234.29 L291.93,234.73 L292.09,235.16 L292.25,235.57 L292.40,235.97 L292.56,236.35 L292.72,236.72 L292.87,237.07 L293.03,237.41 L293.19,237.74 L293.34,238.05 L293.50,238.36 L293.66,238.65 L293.81,238.94 L293.97,239.21 L294.13,239.48 L294.28,239.73 L294.44,239.98 L294.60,240.22 L294.76,240.45 L294.91,240.68 L295.07,240.89 L295.23,241.10 L295.38,241.31 L295.54,241.50 L295.70,241.70 L295.85,241.88 L296.01,242.06 L296.17,242.23 L296.32,242.40 L296.48,242.57 L296.64,242.73 L296.79,242.88 L296.95,243.03 L297.11,243.18 L297.26,243.32 L297.42,243.46 L297.58,243.59 L297.73,243.72 L297.89,243.85 L298.05,243.98 L298.21,244.10 L298.36,244.21 L298.52,244.33 L298.68,244.44 L298.83,244.55 L298.99,244.65 L299.15,244.75 L299.30,244.86 L299.46,244.95 L299.62,245.05 L299.77,245.14 L299.93,245.23 L300.09,245.32 L300.24,245.41 L300.40,245.49 L300.56,245.57 L300.71,245.65 L300.87,245.73 L301.03,245.81 L301.18,245.88 L301.34,245.96 L301.50,246.03 L301.66,246.10 L301.81,246.17 L301.97,246.23 L302.13,246.30 L302.28,246.36 L302.44,246.43 L302.60,246.49 L302.75,246.55 L302.91,246.61 L303.07,246.66 L303.22,246.72 L303.38,246.78 L303.54,246.83 L303.69,246.88 L303.85,246.93 L304.01,246.98 L304.16,247.03 L304.32,247.08 L304.48,247.13 L304.64,247.18 L304.79,247.22 L304.95,247.27 L305.11,247.31 L305.26,247.36 L305.42,247.40 L305.58,247.44 L305.73,247.48 L305.89,247.52 L306.05,247.56 L306.20,247.60 L306.36,247.64 L306.52,247.67 L306.67,247.71 L306.83,247.75 L306.99,247.78 L307.14,247.82 L307.30,247.85 L307.46,247.88 L307.61,247.92 L307.77,247.95 L307.93,247.98 L308.09,248.01 L308.24,248.04 L308.40,248.07 L308.56,248.10 L308.71,248.13 L308.87,248.16 L309.03,248.19 L309.18,248.21 L309.34,248.24 L309.50,248.27 L309.65,248.29 L309.81,248.32 L309.97,248.35 L310.12,248.37 L310.28,248.40 L310.44,248.42 L310.59,248.44 L310.75,248.47 L310.91,248.49 L311.06,248.51 L311.22,248.53 L311.38,248.56 L311.54,248.58 L311.69,248.60 L311.85,248.62 L312.01,248.64 L312.16,248.66 L312.32,248.68 L312.48,248.70 L312.63,248.72 L312.79,248.74 L312.95,248.76 L313.10,248.78 L313.26,248.80 L313.42,248.81 L313.57,248.83 L313.73,248.85 L313.89,248.87 L314.04,248.88 L314.20,248.90 L314.36,248.92 L314.51,248.93 L314.67,248.95 L314.83,248.97 L314.99,248.98 L315.14,249.00 L315.30,249.01 L315.46,249.03 L315.61,249.04 L315.77,249.06 L315.93,249.07 L316.08,249.09 L316.24,249.10 L316.40,249.12 L316.55,249.13 L316.71,249.14 L316.87,249.16 L317.02,249.17 L317.18,249.18 L317.34,249.19 L317.49,249.21 L317.65,249.22 L317.81,249.23 L317.97,249.24 L318.12,249.26 L318.28,249.27 L318.44,249.28 L318.59,249.29 L318.75,249.30 L318.91,249.32 L319.06,249.33 L319.22,249.34 L319.38,249.35 L319.53,249.36 L319.69,249.37 L319.85,249.38 L320.00,249.39 L320.16,249.40 L320.32,249.41 L320.47,249.42 L320.63,249.43 L320.79,249.44 L320.94,249.45 L321.10,249.46 L321.26,249.47 L321.42,249.48 L321.57,249.49 L321.73,249.50 L321.89,249.51 L322.04,249.52 L322.20,249.52 L322.36,249.53 L322.51,249.54 L322.67,249.55 L322.83,249.56 L322.98,249.57 L323.14,249.58 L323.30,249.58 L323.45,249.59 L323.61,249.60 L323.77,249.61 L323.92,249.62 L324.08,249.62 L324.24,249.63 L324.39,249.64 L324.55,249.65 L324.71,249.65 L324.87,249.66 L325.02,249.67 L325.18,249.67 L325.34,249.68 L325.49,249.69 L325.65,249.70 L325.81,249.70 L325.96,249.71 L326.12,249.72 L326.28,249.72 L326.43,249.73 L326.59,249.74 L326.75,249.74 L326.90,249.75 L327.06,249.76 L327.22,249.76 L327.37,249.77 L327.53,249.77 L327.69,249.78 L327.84,249.79 L328.00,249.79 L328.16,249.80 L328.32,249.80 L328.47,249.81 L328.63,249.82 L328.79,249.82 L328.94,249.83 L329.10,249.83 L329.26,249.84 L329.41,249.84 L329.57,249.85 L329.73,249.85 L329.88,249.86 L330.04,249.86 L330.20,249.87 L330.35,249.87 L330.51,249.88 L330.67,249.89 L330.82,249.89 L330.98,249.90 L331.14,249.90 L331.30,249.90 L331.45,249.91 L331.61,249.91 L331.77,249.92 L331.92,249.92 L332.08,249.93 L332.24,249.93 L332.39,249.94 L332.55,249.94 L332.71,249.95 L332.86,249.95 L333.02,249.96 L333.18,249.96 L333.33,249.96 L333.49,249.97 L333.65,249.97 L333.80,249.98 L333.96,249.98 L334.12,249.99 L334.27,249.99 L334.43,249.99 L334.59,250.00 L334.75,250.00 L334.90,250.01 L335.06,250.01 L335.22,250.01 L335.37,250.02 L335.53,250.02 L335.69,250.03 L335.84,250.03 L336.00,250.03 L336.16,250.04 L336.31,250.04 L336.47,250.04 L336.63,250.05 L336.78,250.05 L336.94,250.05 L337.10,250.06 L337.25,250.06 L337.41,250.06 L337.57,250.07 L337.72,250.07 L337.88,250.08 L338.04,250.08 L338.20,250.08 L338.35,250.09 L338.51,250.09 L338.67,250.09 L338.82,250.09 L338.98,250.10 L339.14,250.10 L339.29,250.10 L339.45,250.11 L339.61,250.11 L339.76,250.11 L339.92,250.12 L340.08,250.12 L340.23,250.12 L340.39,250.13 L340.55,250.13 L340.70,250.13 L340.86,250.13 L341.02,250.14 L341.17,250.14 L341.33,250.14 L341.49,250.15 L341.65,250.15 L341.80,250.15 L341.96,250.15 L342.12,250.16 L342.27,250.16 L342.43,250.16 L342.59,250.17 L342.74,250.17 L342.90,250.17" fill="none" stroke="#0000ff" stroke-width="2.30" stroke-linejoin="round" stroke-dasharray="5.5 2.3 2 2.1"/>
</g>
<g clip-path="url(#cb)">
<path d="M437.78,240.49 L438.15,239.89 L438.53,239.27 L438.90,238.64 L439.28,238.00 L439.65,237.36 L440.03,236.70 L440.40,236.04 L440.78,235.36 L441.16,234.68 L441.53,233.98 L441.91,233.27 L442.28,232.56 L442.66,231.83 L443.03,231.09 L443.41,230.34 L443.78,229.58 L444.16,228.81 L444.53,228.03 L444.91,227.23 L445.28,226.42 L445.66,225.61 L446.03,224.77 L446.41,223.93 L446.78,223.07 L447.16,222.20 L447.53,221.32 L447.91,220.43 L448.29,219.52 L448.66,218.59 L449.04,217.66 L449.41,216.71 L449.79,215.74 L450.16,214.76 L450.54,213.77 L450.91,212.76 L451.29,211.74 L451.66,210.70 L452.04,209.64 L452.41,208.57 L452.79,207.49 L453.16,206.38 L453.54,205.27 L453.91,204.13 L454.29,202.98 L454.66,201.81 L455.04,200.62 L455.42,199.41 L455.79,198.19 L456.17,196.95 L456.54,195.69 L456.92,194.41 L457.29,193.11 L457.67,191.79 L458.04,190.46 L458.42,189.10 L458.79,187.72 L459.17,186.32 L459.54,184.90 L459.92,183.46 L460.29,182.00" fill="none" stroke="#000" stroke-width="2.30" stroke-linejoin="round" stroke-linecap="round"/>
<path d="M459.89,182.00 L460.69,182.00 L461.54,241.12 L459.04,241.12 Z" fill="#000"/>
<path d="M460.29,241.12 L460.48,240.23 L460.66,239.36 L460.85,238.51 L461.03,237.69 L461.22,236.89 L461.40,236.12 L461.59,235.38 L461.77,234.65 L461.96,233.96 L462.14,233.29 L462.33,232.65 L462.51,232.03 L462.70,231.44 L462.88,230.88 L463.07,230.34 L463.25,229.84 L463.44,229.36 L463.62,228.91 L463.81,228.49 L463.99,228.09 L464.18,227.73 L464.36,227.40 L464.55,227.10 L464.73,226.83 L464.92,226.60 L465.10,226.40 L465.28,226.24 L465.47,226.12 L465.65,226.03 L465.84,226.00 L465.84,83.00 L470.22,83.57 L474.60,84.14 L478.98,84.71 L483.36,85.28 L487.75,85.85 L492.13,86.41 L496.51,86.97 L500.89,87.53 L505.27,88.09 L509.65,88.64 L514.03,89.20 L518.41,89.75 L522.80,90.30 L527.18,90.85 L531.56,91.40 L535.94,91.94 L540.32,92.48 L544.70,93.02 L549.08,93.56 L553.46,94.10 L557.84,94.63 L562.23,95.17 L566.61,95.70 L570.99,96.23 L575.37,96.76 L579.75,97.28 L584.13,97.81 L588.51,98.33 L592.89,98.85 L597.28,99.37 L601.66,99.89 L606.04,100.40 L610.42,100.92 L614.80,101.43 L619.18,101.94 L623.56,102.45 L627.94,102.95 L632.33,103.46 L636.71,103.96 L641.09,104.46 L645.47,104.96 L649.85,105.46 L654.23,105.96 L658.61,106.45 L662.99,106.95 L667.38,107.44 L671.76,107.93 L676.14,108.42 L680.52,108.90 L684.90,109.39" fill="none" stroke="#000" stroke-width="2.30" stroke-linejoin="round" stroke-linecap="round"/>
</g>
<g clip-path="url(#cc)">
<path d="M86.80,515.48 L87.05,515.48 L87.30,515.48 L87.55,515.48 L87.80,515.48 L88.05,515.48 L88.30,515.47 L88.55,515.47 L88.80,515.47 L89.05,515.47 L89.30,515.47 L89.55,515.47 L89.80,515.47 L90.05,515.46 L90.30,515.46 L90.55,515.46 L90.80,515.46 L91.05,515.46 L91.30,515.45 L91.55,515.45 L91.80,515.45 L92.05,515.45 L92.30,515.44 L92.55,515.44 L92.80,515.44 L93.05,515.43 L93.30,515.43 L93.55,515.43 L93.80,515.42 L94.05,515.42 L94.30,515.41 M101.00,515.16 L101.26,515.15 L101.51,515.13 L101.77,515.11 L102.02,515.09 L102.28,515.06 L102.53,515.04 L102.79,515.02 L103.04,514.99 L103.30,514.96 L103.56,514.93 L103.81,514.90 L104.07,514.87 L104.32,514.84 L104.58,514.80 L104.83,514.76 L105.09,514.72 L105.34,514.68 L105.60,514.64 L105.86,514.59 L106.11,514.54 L106.37,514.49 L106.62,514.44 L106.88,514.38 L107.13,514.32 L107.39,514.26 L107.64,514.19 L107.90,514.12 M110.10,513.30 L110.36,513.29 L110.61,513.27 L110.87,513.22 L111.12,513.14 L111.38,513.05 L111.63,512.93 L111.89,512.80 L112.14,512.64 L112.40,512.46 L112.66,512.27 L112.91,512.05 L113.17,511.83 L113.42,511.58 L113.68,511.33 L113.93,511.06 L114.19,510.78 L114.44,510.50 L114.70,510.20 M117.30,507.23 L117.55,506.98 L117.80,506.75 L118.06,506.53 L118.31,506.32 L118.56,506.13 L118.81,505.96 L119.07,505.81 L119.32,505.67 L119.57,505.56 L119.82,505.47 L120.07,505.40 L120.33,505.35 L120.58,505.33 L120.83,505.33 L121.08,505.35 L121.33,505.39 L121.59,505.45 L121.84,505.54 L122.09,505.65 L122.34,505.77 L122.60,505.92 L122.85,506.09 L123.10,506.27 M125.20,508.36 L125.45,508.65 L125.71,508.95 L125.96,509.25 L126.21,509.55 L126.46,509.85 L126.72,510.14 L126.97,510.44 L127.22,510.72 L127.47,511.00 L127.73,511.26 L127.98,511.52 L128.23,511.76 L128.48,511.99 L128.74,512.21 L128.99,512.40 L129.24,512.58 L129.49,512.75 L129.75,512.89 L130.00,513.01 M131.20,513.26 L131.45,513.37 L131.70,513.48 L131.95,513.58 L132.20,513.68 L132.45,513.77 L132.70,513.85 L132.95,513.93 L133.20,514.01 L133.45,514.09 L133.70,514.16 L133.95,514.22 L134.20,514.29 L134.45,514.35 L134.70,514.41 L134.95,514.46 L135.20,514.51 L135.45,514.56 L135.70,514.61 L135.95,514.65 L136.20,514.69 L136.45,514.74 L136.70,514.77 L136.95,514.81 L137.20,514.84 L137.45,514.88 L137.70,514.91 L137.95,514.94 L138.20,514.97 L138.45,514.99 L138.70,515.02 M146.20,515.40 L146.45,515.40 L146.70,515.41 L146.95,515.41 L147.20,515.42 L147.45,515.42 L147.70,515.42 L147.95,515.43 L148.20,515.43 L148.45,515.43 L148.70,515.44 L148.95,515.44 L149.20,515.44 L149.45,515.45 L149.70,515.45 L149.95,515.45 L150.20,515.45 L150.45,515.46 L150.70,515.46 L150.95,515.46 L151.20,515.46 L151.45,515.46 L151.70,515.47 L151.95,515.47 L152.20,515.47 L152.45,515.47 L152.70,515.47 L152.95,515.47 L153.20,515.48 L153.45,515.48 L153.70,515.48 M161.20,515.50 L161.45,515.50 L161.70,515.50 L161.95,515.50 L162.20,515.50 L162.45,515.50 L162.70,515.50 L162.95,515.50 L163.20,515.50 L163.45,515.50 L163.70,515.50 L163.95,515.50 L164.20,515.50 L164.45,515.50 L164.70,515.50 L164.95,515.50 L165.20,515.50 L165.45,515.50 L165.70,515.50 L165.95,515.50 L166.20,515.50 L166.45,515.50 L166.70,515.50 L166.95,515.50 L167.20,515.50 L167.45,515.50 L167.70,515.50 L167.95,515.50 L168.20,515.50 L168.45,515.50 L168.70,515.50 M176.20,515.50 L176.45,515.50 L176.70,515.50 L176.95,515.50 L177.20,515.50 L177.45,515.50 L177.70,515.50 L177.95,515.50 L178.20,515.50 L178.45,515.50 L178.70,515.50 L178.95,515.50 L179.20,515.50 L179.45,515.50 L179.70,515.50 L179.95,515.50 L180.20,515.50 L180.45,515.50 L180.70,515.50 L180.95,515.50 L181.20,515.50 L181.45,515.50 L181.70,515.50 L181.95,515.50 L182.20,515.50 L182.45,515.50 L182.70,515.50 L182.95,515.50 L183.20,515.50 L183.45,515.50 L183.70,515.50 M191.20,515.50 L191.45,515.50 L191.70,515.50 L191.95,515.50 L192.20,515.50 L192.45,515.50 L192.70,515.50 L192.95,515.50 L193.20,515.50 L193.45,515.50 L193.70,515.50 L193.95,515.50 L194.20,515.50 L194.45,515.50 L194.70,515.50 L194.95,515.50 L195.20,515.50 L195.45,515.50 L195.70,515.50 L195.95,515.50 L196.20,515.50 L196.45,515.50 L196.70,515.50 L196.95,515.50 L197.20,515.50 L197.45,515.50 L197.70,515.50 L197.95,515.50 L198.20,515.50 L198.45,515.50 L198.70,515.50 M206.20,515.50 L206.45,515.50 L206.70,515.50 L206.95,515.50 L207.20,515.50 L207.45,515.50 L207.70,515.50 L207.95,515.50 L208.20,515.50 L208.45,515.50 L208.70,515.50 L208.95,515.50 L209.20,515.50 L209.45,515.50 L209.70,515.50 L209.95,515.50 L210.20,515.50 L210.45,515.50 L210.70,515.50 L210.95,515.50 L211.20,515.50 L211.45,515.50 L211.70,515.50 L211.95,515.50 L212.20,515.50 L212.45,515.50 L212.70,515.50 L212.95,515.50 L213.20,515.50 L213.45,515.50 L213.70,515.50 M221.20,515.50 L221.45,515.50 L221.70,515.50 L221.95,515.50 L222.20,515.50 L222.45,515.50 L222.70,515.50 L222.95,515.50 L223.20,515.50 L223.45,515.50 L223.70,515.50 L223.95,515.50 L224.20,515.50 L224.45,515.50 L224.70,515.50 L224.95,515.50 L225.20,515.50 L225.45,515.50 L225.70,515.50 L225.95,515.50 L226.20,515.50 L226.45,515.50 L226.70,515.50 L226.95,515.50 L227.20,515.50 L227.45,515.50 L227.70,515.50 L227.95,515.50 L228.20,515.50 L228.45,515.50 L228.70,515.50 M236.20,515.50 L236.45,515.50 L236.70,515.50 L236.95,515.50 L237.20,515.50 L237.45,515.50 L237.70,515.50 L237.95,515.50 L238.20,515.50 L238.45,515.50 L238.70,515.50 L238.95,515.50 L239.20,515.50 L239.45,515.50 L239.70,515.50 L239.95,515.50 L240.20,515.50 L240.45,515.50 L240.70,515.50 L240.95,515.50 L241.20,515.50 L241.45,515.50 L241.70,515.50 L241.95,515.50 L242.20,515.50 L242.45,515.50 L242.70,515.50 L242.95,515.50 L243.20,515.50 L243.45,515.50 L243.70,515.50 M251.20,515.50 L251.45,515.50 L251.70,515.50 L251.95,515.50 L252.20,515.50 L252.45,515.50 L252.70,515.50 L252.95,515.50 L253.20,515.50 L253.45,515.50 L253.70,515.50 L253.95,515.50 L254.20,515.50 L254.45,515.50 L254.70,515.50 L254.95,515.50 L255.20,515.50 L255.45,515.50 L255.70,515.50 L255.95,515.50 L256.20,515.50 L256.45,515.50 L256.70,515.50 L256.95,515.50 L257.20,515.50 L257.45,515.50 L257.70,515.50 L257.95,515.50 L258.20,515.50 L258.45,515.50 L258.70,515.50 M266.20,515.50 L266.45,515.50 L266.70,515.50 L266.95,515.50 L267.20,515.50 L267.45,515.50 L267.70,515.50 L267.95,515.50 L268.20,515.50 L268.45,515.50 L268.70,515.50 L268.95,515.50 L269.20,515.50 L269.45,515.50 L269.70,515.50 L269.95,515.50 L270.20,515.50 L270.45,515.50 L270.70,515.50 L270.95,515.50 L271.20,515.50 L271.45,515.50 L271.70,515.50 L271.95,515.50 L272.20,515.50 L272.45,515.50 L272.70,515.50 L272.95,515.50 L273.20,515.50 L273.45,515.50 L273.70,515.50 M281.20,515.50 L281.45,515.50 L281.70,515.50 L281.95,515.50 L282.20,515.50 L282.45,515.50 L282.70,515.50 L282.95,515.50 L283.20,515.50 L283.45,515.50 L283.70,515.50 L283.95,515.50 L284.20,515.50 L284.45,515.50 L284.70,515.50 L284.95,515.50 L285.20,515.50 L285.45,515.50 L285.70,515.50 L285.95,515.50 L286.20,515.50 L286.45,515.50 L286.70,515.50 L286.95,515.50 L287.20,515.50 L287.45,515.50 L287.70,515.50 L287.95,515.50 L288.20,515.50 L288.45,515.50 L288.70,515.50 M296.20,515.50 L296.45,515.50 L296.70,515.50 L296.95,515.50 L297.20,515.50 L297.45,515.50 L297.70,515.50 L297.95,515.50 L298.20,515.50 L298.45,515.50 L298.70,515.50 L298.95,515.50 L299.20,515.50 L299.45,515.50 L299.70,515.50 L299.95,515.50 L300.20,515.50 L300.45,515.50 L300.70,515.50 L300.95,515.50 L301.20,515.50 L301.45,515.50 L301.70,515.50 L301.95,515.50 L302.20,515.50 L302.45,515.50 L302.70,515.50 L302.95,515.50 L303.20,515.50 L303.45,515.50 L303.70,515.50 M311.20,515.50 L311.45,515.50 L311.70,515.50 L311.95,515.50 L312.20,515.50 L312.45,515.50 L312.70,515.50 L312.95,515.50 L313.20,515.50 L313.45,515.50 L313.70,515.50 L313.95,515.50 L314.20,515.50 L314.45,515.50 L314.70,515.50 L314.95,515.50 L315.20,515.50 L315.45,515.50 L315.70,515.50 L315.95,515.50 L316.20,515.50 L316.45,515.50 L316.70,515.50 L316.95,515.50 L317.20,515.50 L317.45,515.50 L317.70,515.50 L317.95,515.50 L318.20,515.50 L318.45,515.50 L318.70,515.50 M326.20,515.50 L326.45,515.50 L326.70,515.50 L326.95,515.50 L327.20,515.50 L327.45,515.50 L327.70,515.50 L327.95,515.50 L328.20,515.50 L328.45,515.50 L328.70,515.50 L328.95,515.50 L329.20,515.50 L329.45,515.50 L329.70,515.50 L329.95,515.50 L330.20,515.50 L330.45,515.50 L330.70,515.50 L330.95,515.50 L331.20,515.50 L331.45,515.50 L331.70,515.50 L331.95,515.50 L332.20,515.50 L332.45,515.50 L332.70,515.50 L332.95,515.50 L333.20,515.50 L333.45,515.50 L333.70,515.50" fill="none" stroke="#ff0000" stroke-width="2.30" stroke-linejoin="round"/>
<path d="M87.41,391.75 L110.18,355.45 L110.18,490.94 L110.44,490.80 L110.71,490.75 L110.97,490.78 L111.24,490.90 L111.50,491.10 L111.76,491.39 L112.03,491.75 L112.29,492.20 L112.55,492.72 L112.82,493.31 L113.08,493.96 L113.35,494.69 L113.61,495.46 L113.87,496.29 L114.14,497.17 L114.40,498.09 L114.67,499.05 L114.93,500.03 L115.19,501.03 L115.46,502.05 L115.72,503.07 L115.98,504.10 L116.25,505.11 L116.51,506.12 L116.78,507.10 L117.04,508.06 L117.30,508.98 L117.57,509.86 L117.83,510.70 L118.10,511.49 L118.36,512.21 L118.62,512.88 L118.89,513.47 L119.15,514.00 L119.41,514.45 L119.68,514.83 L119.94,515.12 L120.21,515.33 L120.47,515.46 L120.73,515.50 L121.00,515.46 L121.26,515.33 L121.52,515.12 L121.79,514.83 L122.05,514.45 L122.32,514.00 L122.58,513.47 L122.84,512.88 L123.11,512.21 L123.37,511.49 L123.64,510.70 L123.90,509.86 L124.16,508.98 L124.43,508.06 L124.69,507.10 L124.95,506.12 L125.22,505.11 L125.48,504.10 L125.75,503.07 L126.01,502.05 L126.27,501.03 L126.54,500.03 L126.80,499.05 L127.07,498.09 L127.33,497.17 L127.59,496.29 L127.86,495.46 L128.12,494.69 L128.38,493.96 L128.65,493.31 L128.91,492.72 L129.18,492.20 L129.44,491.75 L129.70,491.39 L129.97,491.10 L130.23,490.90 L130.49,490.78 L130.76,490.75 L131.02,490.80 L131.29,490.94 L131.29,347.20 L135.52,347.75 L139.75,348.29 L143.98,348.84 L148.22,349.38 L152.45,349.92 L156.68,350.46 L160.91,351.00 L165.14,351.53 L169.38,352.07 L173.61,352.60 L177.84,353.13 L182.07,353.66 L186.31,354.18 L190.54,354.71 L194.77,355.23 L199.00,355.75 L203.23,356.27 L207.47,356.79 L211.70,357.31 L215.93,357.82 L220.16,358.33 L224.40,358.85 L228.63,359.35 L232.86,359.86 L237.09,360.37 L241.33,360.87 L245.56,361.38 L249.79,361.88 L254.02,362.38 L258.25,362.88 L262.49,363.37 L266.72,363.87 L270.95,364.36 L275.18,364.85 L279.42,365.34 L283.65,365.83 L287.88,366.32 L292.11,366.80 L296.34,367.29 L300.58,367.77 L304.81,368.25 L309.04,368.73 L313.27,369.21 L317.51,369.68 L321.74,370.16 L325.97,370.63 L330.20,371.10 L334.44,371.57 L338.67,372.04 L342.90,372.51" fill="none" stroke="#000" stroke-width="2.30" stroke-linejoin="round"/>
</g>
<g clip-path="url(#cd)">
<path d="M418.70,438.62 L419.28,437.31 L419.86,435.99 L420.45,434.65 L421.03,433.31 L421.61,431.95 L422.19,430.58 L422.78,429.20 L423.36,427.81 L423.94,426.40 L424.52,424.99 L425.11,423.56 L425.69,422.12 L426.27,420.67 L426.85,419.21 L427.43,417.74 L428.02,416.25 L428.60,414.76 L429.18,413.25 L429.76,411.73 L430.35,410.20 L430.93,408.66 L431.51,407.10 L432.09,405.54 L432.68,403.96 L433.26,402.37 L433.84,400.77 L434.42,399.16 L435.00,397.54 L435.59,395.90 L436.17,394.26 L436.75,392.60 L437.33,390.93 L437.92,389.25 L438.50,387.56 L439.08,385.85 L439.66,384.14 L440.25,382.41 L440.83,380.67 L441.41,378.92 L441.99,377.16" fill="none" stroke="#000" stroke-width="2.30" stroke-linejoin="round"/>
<path d="M441.59,377.16 L442.39,377.16 L443.24,489.39 L440.74,489.39 Z" fill="#000"/>
<path d="M441.99,489.39 L442.26,488.58 L442.52,487.82 L442.78,487.13 L443.05,486.51 L443.31,485.96 L443.57,485.49 L443.84,485.10 L444.10,484.80 L444.36,484.58 L444.63,484.45 L444.89,484.41 L445.15,484.46 L445.42,484.60 L445.68,484.83 L445.94,485.14 L446.21,485.54 L446.47,486.02 L446.73,486.57 L447.00,487.20 L447.26,487.90 L447.52,488.66 L447.79,489.48 L448.05,490.35 L448.31,491.27 L448.58,492.23 L448.84,493.22 L449.11,494.23 L449.37,495.27 L449.63,496.31 L449.90,497.35 L450.16,498.39 L450.42,499.41 L450.69,500.41 L450.95,501.39 L451.21,502.33 L451.48,503.23 L451.74,504.08 L452.00,504.87 L452.27,505.60 L452.53,506.27 L452.79,506.86 L453.06,507.38 L453.32,507.82 L453.58,508.18 L453.85,508.45 L454.11,508.64 L454.37,508.74 L454.64,508.74 L454.90,508.66 L455.16,508.49 L455.43,508.23 L455.69,507.89 L455.95,507.46 L456.22,506.95 L456.48,506.37 L456.74,505.71 L457.01,504.99 L457.27,504.21 L457.53,503.36 L457.80,502.47 L458.06,501.54 L458.32,500.57 L458.59,499.57 L458.85,498.55 L459.12,497.51 L459.38,496.47 L459.64,495.43 L459.91,494.40 L460.17,493.38 L460.43,492.38 L460.70,491.42 L460.96,490.50 L461.22,489.62 L461.49,488.79 L461.75,488.02 L462.01,487.31 L462.28,486.67 L462.54,486.10 L462.80,485.61 L463.07,485.20 L463.33,484.87 L463.59,484.63 L463.86,484.48 L464.12,484.41 L464.38,484.44 L464.65,484.56 L464.91,484.76 L465.17,485.05 L465.44,485.42 L465.70,485.88 L465.96,486.42 L466.23,487.03 L466.49,487.71 L466.75,488.46 L467.02,489.26 L467.28,490.12 L467.54,491.03 L467.81,491.98 L468.07,492.96 L468.34,493.97 L468.60,494.99 L468.86,496.03 L469.13,497.08 L469.39,498.12 L469.65,499.14 L469.92,500.15 L470.18,501.14 L470.44,502.09 L470.71,503.00 L470.97,503.86 L471.23,504.67 L471.50,505.42 L471.76,506.10 L472.02,506.71 L472.29,507.25 L472.55,507.72 L472.81,508.10 L473.08,508.39 L473.34,508.60 L473.60,508.72 L473.87,508.75 L474.13,508.69 L474.39,508.54 L474.66,508.31 L474.92,507.98 L475.18,507.58 L475.45,507.09 L475.71,506.53 L475.97,505.89 L476.24,505.19 L476.50,504.42 L476.76,503.59 L477.03,502.71 L477.29,501.79 L477.56,500.83 L477.82,499.84 L478.08,498.82 L478.35,497.79 L478.61,496.75 L478.87,495.70 L479.14,494.67 L479.40,493.64 L479.66,492.64 L479.93,491.67 L480.19,490.74 L480.45,489.84 L480.72,489.00 L480.98,488.21 L481.24,487.49 L481.51,486.83 L481.77,486.24 L482.03,485.73 L482.30,485.30 L482.56,484.95 L482.82,484.69 L483.09,484.51 L483.35,484.42 L483.61,484.42 L483.88,484.52 L484.14,484.70 L484.14,342.93 L488.16,343.45 L492.17,343.98 L496.19,344.51 L500.20,345.03 L504.22,345.55 L508.23,346.07 L512.25,346.59 L516.26,347.11 L520.28,347.62 L524.29,348.13 L528.31,348.65 L532.32,349.16 L536.34,349.67 L540.35,350.17 L544.37,350.68 L548.38,351.18 L552.40,351.68 L556.41,352.18 L560.43,352.68 L564.44,353.18 L568.46,353.68 L572.47,354.17 L576.49,354.66 L580.51,355.16 L584.52,355.64 L588.54,356.13 L592.55,356.62 L596.57,357.10 L600.58,357.59 L604.60,358.07 L608.61,358.55 L612.63,359.03 L616.64,359.51 L620.66,359.98 L624.67,360.45 L628.69,360.93 L632.70,361.40 L636.72,361.87 L640.73,362.34 L644.75,362.80 L648.76,363.27 L652.78,363.73 L656.79,364.19 L660.81,364.65 L664.82,365.11 L668.84,365.57 L672.85,366.03 L676.87,366.48 L680.88,366.94 L684.90,367.39" fill="none" stroke="#000" stroke-width="2.30" stroke-linejoin="round"/>
<path d="M418.40,501.48 L418.65,501.71 L418.90,501.93 L419.16,502.14 L419.41,502.35 L419.66,502.56 L419.91,502.76 L420.17,502.95 L420.42,503.14 L420.67,503.33 L420.92,503.51 L421.17,503.68 L421.43,503.85 L421.68,504.01 L421.93,504.17 L422.18,504.32 L422.43,504.46 L422.69,504.60 L422.94,504.73 L423.19,504.85 L423.44,504.97 L423.70,505.08 L423.95,505.18 L424.20,505.28 M430.30,505.35 L430.56,505.26 L430.81,505.16 L431.07,505.05 L431.33,504.94 L431.59,504.81 L431.84,504.69 L432.10,504.55 L432.36,504.41 L432.61,504.26 L432.87,504.11 L433.13,503.94 L433.39,503.78 L433.64,503.60 L433.90,503.42 L434.16,503.24 L434.41,503.05 L434.67,502.85 L434.93,502.65 L435.19,502.44 L435.44,502.23 L435.70,502.01 M439.10,498.79 L439.35,498.52 L439.61,498.26 L439.86,498.00 L440.12,497.74 L440.37,497.47 L440.62,497.20 L440.88,496.94 L441.13,496.67 L441.38,496.40 L441.64,496.14 L441.89,495.87 L442.15,495.77 L442.40,495.77 M442.35,505.69 L442.55,505.19 L442.75,504.65 L442.95,504.07 L443.15,503.45 L443.35,502.79 L443.55,502.10 L443.75,501.37 L443.85,500.99 M445.40,494.45 L445.60,493.55 L445.80,492.64 L446.00,491.74 L446.20,490.84 L446.40,489.94 L446.61,489.06 L446.76,488.40 M448.46,481.85 L448.66,481.23 L448.86,480.65 L449.06,480.11 L449.26,479.62 L449.46,479.17 L449.66,478.77 L449.86,478.42 L450.06,478.12 L450.26,477.87 L450.46,477.67 L450.66,477.53 L450.86,477.44 L451.06,477.40 L451.26,477.41 L451.46,477.47 L451.56,477.51 M454.56,483.27 L454.76,483.91 L454.97,484.58 L455.17,485.27 L455.37,485.98 L455.57,486.71 L455.77,487.45 L455.97,488.21 L456.17,488.98 L456.27,489.36 M457.92,495.88 L458.12,496.65 L458.32,497.41 L458.52,498.15 L458.72,498.88 L458.92,499.59 L459.12,500.28 L459.32,500.95 L459.52,501.59 L459.62,501.91 M461.37,506.14 L461.57,506.46 L461.77,506.73 L461.97,506.96 L462.17,507.16 L462.37,507.31 L462.57,507.42 L462.77,507.49 L462.97,507.51 L463.17,507.50 L463.38,507.44 L463.58,507.34 L463.78,507.20 L463.98,507.02 L464.18,506.80 L464.38,506.54 L464.58,506.24 L464.78,505.91 L464.98,505.54 L465.13,505.23 M466.43,501.83 L466.63,501.20 L466.83,500.55 L467.03,499.87 L467.23,499.18 L467.43,498.46 L467.63,497.73 L467.83,496.99 L468.03,496.23 L468.23,495.46 L468.28,495.27 M469.58,490.19 L469.78,489.42 L469.98,488.66 L470.18,487.91 L470.38,487.18 L470.58,486.45 L470.78,485.75 L470.98,485.07 L471.18,484.40 L471.38,483.76 L471.53,483.30 M475.34,477.93 L475.54,478.05 L475.74,478.23 L475.94,478.45 L476.14,478.71 L476.34,479.02 L476.54,479.38 L476.74,479.78 L476.94,480.21 L477.14,480.69 L477.34,481.21 L477.54,481.76 L477.74,482.35 L477.94,482.97 L478.14,483.62 L478.34,484.30 L478.54,485.01 L478.74,485.75 L478.94,486.50 L479.14,487.28 L479.34,488.07 L479.54,488.88 L479.74,489.70 L479.94,490.53 L480.15,491.37 L480.35,492.22 L480.35,492.22 M480.85,494.33 L481.05,495.17 L481.25,496.00 L481.45,496.82 L481.65,497.63 L481.85,498.42 L482.05,499.20 L482.25,499.96 L482.45,500.69 L482.65,501.40 L482.85,502.08 L483.05,502.74 L483.10,502.90 M482.00,497.20 L482.26,497.20 L482.52,497.20 L482.78,497.20 L483.05,497.20 L483.31,497.20 L483.57,497.20 L483.83,497.20 L484.09,497.20 L484.35,497.59 L484.62,498.05 L484.88,498.49 L485.14,498.91 L485.40,499.32 M488.10,502.64 L488.35,502.88 L488.60,503.12 L488.85,503.34 L489.10,503.55 L489.35,503.76 L489.60,503.95 L489.85,504.14 L490.10,504.32 L490.35,504.50 L490.60,504.67 L490.85,504.83 L491.10,504.98 L491.35,505.13 L491.60,505.27 L491.85,505.41 L492.10,505.54 L492.35,505.67 L492.60,505.79 L492.85,505.91 L493.10,506.02 L493.35,506.13 L493.60,506.23 M499.20,507.73 L499.45,507.77 L499.71,507.81 L499.96,507.85 L500.21,507.88 L500.47,507.92 L500.72,507.95 L500.98,507.98 L501.23,508.01 L501.48,508.04 L501.74,508.07 L501.99,508.10 L502.24,508.12 L502.50,508.15 L502.75,508.17 L503.00,508.20 L503.26,508.22 L503.51,508.24 L503.76,508.26 L504.02,508.28 L504.27,508.30 L504.52,508.32 L504.78,508.33 L505.03,508.35 L505.29,508.37 L505.54,508.38 L505.79,508.40 L506.05,508.41 L506.30,508.42 M513.20,508.75 L520.70,508.75 M528.20,508.75 L535.70,508.75 M543.20,508.75 L550.70,508.75 M558.20,508.75 L565.70,508.75 M573.20,508.75 L580.70,508.75 M588.20,508.75 L595.70,508.75 M603.20,508.75 L609.00,508.75 M610.10,508.75 L617.60,508.75 M625.10,508.75 L632.60,508.75 M640.10,508.75 L647.60,508.75 M655.10,508.75 L662.60,508.75 M670.10,508.75 L677.60,508.75" fill="none" stroke="#ff0000" stroke-width="2.30" stroke-linejoin="round"/>
</g>
<rect x="76.30" y="58.50" width="266.60" height="206.10" fill="none" stroke="#1a1a1a" stroke-width="1.15"/>
<rect x="418.70" y="58.50" width="266.20" height="206.10" fill="none" stroke="#1a1a1a" stroke-width="1.15"/>
<rect x="76.30" y="323.30" width="266.60" height="205.90" fill="none" stroke="#1a1a1a" stroke-width="1.15"/>
<rect x="418.70" y="323.30" width="266.20" height="205.90" fill="none" stroke="#1a1a1a" stroke-width="1.15"/>
<path d="M107.66,264.60 v2.5 M170.39,264.60 v2.5 M233.12,264.60 v2.5 M295.85,264.60 v2.5 M76.30,264.60 v4.4 M139.03,264.60 v4.4 M201.76,264.60 v4.4 M264.49,264.60 v4.4 M327.22,264.60 v4.4" stroke="#1a1a1a" stroke-width="1.10" fill="none"/>
<text x="76.30" y="280.80" text-anchor="middle" font-size="12.90">0</text>
<text x="139.03" y="280.80" text-anchor="middle" font-size="12.90">20</text>
<text x="201.76" y="280.80" text-anchor="middle" font-size="12.90">40</text>
<text x="264.49" y="280.80" text-anchor="middle" font-size="12.90">60</text>
<text x="327.22" y="280.80" text-anchor="middle" font-size="12.90">80</text>
<path d="M76.30,264.50 h-2.5 M76.30,237.00 h-2.5 M76.30,209.50 h-2.5 M76.30,182.00 h-2.5 M76.30,154.50 h-2.5 M76.30,127.00 h-2.5 M76.30,99.50 h-2.5 M76.30,72.00 h-2.5 M76.30,250.75 h-4.4 M76.30,223.25 h-4.4 M76.30,195.75 h-4.4 M76.30,168.25 h-4.4 M76.30,140.75 h-4.4 M76.30,113.25 h-4.4 M76.30,85.75 h-4.4 M76.30,58.25 h-4.4" stroke="#1a1a1a" stroke-width="1.10" fill="none"/>
<text x="69.40" y="254.75" text-anchor="end" font-size="12.90">0.00</text>
<text x="69.40" y="227.25" text-anchor="end" font-size="12.90">0.05</text>
<text x="69.40" y="199.75" text-anchor="end" font-size="12.90">0.10</text>
<text x="69.40" y="172.25" text-anchor="end" font-size="12.90">0.15</text>
<text x="69.40" y="144.75" text-anchor="end" font-size="12.90">0.20</text>
<text x="69.40" y="117.25" text-anchor="end" font-size="12.90">0.25</text>
<text x="69.40" y="89.75" text-anchor="end" font-size="12.90">0.30</text>
<text x="69.40" y="62.25" text-anchor="end" font-size="12.90">0.35</text>
<path d="M440.88,264.60 v2.5 M485.25,264.60 v2.5 M529.62,264.60 v2.5 M573.98,264.60 v2.5 M618.35,264.60 v2.5 M662.72,264.60 v2.5 M418.70,264.60 v4.4 M463.07,264.60 v4.4 M507.43,264.60 v4.4 M551.80,264.60 v4.4 M596.17,264.60 v4.4 M640.53,264.60 v4.4 M684.90,264.60 v4.4" stroke="#1a1a1a" stroke-width="1.10" fill="none"/>
<text x="418.70" y="280.80" text-anchor="middle" font-size="12.90">-200</text>
<text x="463.07" y="280.80" text-anchor="middle" font-size="12.90">0</text>
<text x="507.43" y="280.80" text-anchor="middle" font-size="12.90">200</text>
<text x="551.80" y="280.80" text-anchor="middle" font-size="12.90">400</text>
<text x="596.17" y="280.80" text-anchor="middle" font-size="12.90">600</text>
<text x="640.53" y="280.80" text-anchor="middle" font-size="12.90">800</text>
<text x="684.90" y="280.80" text-anchor="middle" font-size="12.90">1000</text>
<path d="M98.52,529.20 v2.5 M142.95,529.20 v2.5 M187.38,529.20 v2.5 M231.82,529.20 v2.5 M276.25,529.20 v2.5 M320.68,529.20 v2.5 M76.30,529.20 v4.4 M120.73,529.20 v4.4 M165.17,529.20 v4.4 M209.60,529.20 v4.4 M254.03,529.20 v4.4 M298.47,529.20 v4.4 M342.90,529.20 v4.4" stroke="#1a1a1a" stroke-width="1.10" fill="none"/>
<text x="76.30" y="545.40" text-anchor="middle" font-size="12.90">-200</text>
<text x="120.73" y="545.40" text-anchor="middle" font-size="12.90">0</text>
<text x="165.17" y="545.40" text-anchor="middle" font-size="12.90">200</text>
<text x="209.60" y="545.40" text-anchor="middle" font-size="12.90">400</text>
<text x="254.03" y="545.40" text-anchor="middle" font-size="12.90">600</text>
<text x="298.47" y="545.40" text-anchor="middle" font-size="12.90">800</text>
<text x="342.90" y="545.40" text-anchor="middle" font-size="12.90">1000</text>
<path d="M440.88,529.20 v2.5 M485.25,529.20 v2.5 M529.62,529.20 v2.5 M573.98,529.20 v2.5 M618.35,529.20 v2.5 M662.72,529.20 v2.5 M418.70,529.20 v4.4 M463.07,529.20 v4.4 M507.43,529.20 v4.4 M551.80,529.20 v4.4 M596.17,529.20 v4.4 M640.53,529.20 v4.4 M684.90,529.20 v4.4" stroke="#1a1a1a" stroke-width="1.10" fill="none"/>
<text x="418.70" y="545.40" text-anchor="middle" font-size="12.90">-200</text>
<text x="463.07" y="545.40" text-anchor="middle" font-size="12.90">0</text>
<text x="507.43" y="545.40" text-anchor="middle" font-size="12.90">200</text>
<text x="551.80" y="545.40" text-anchor="middle" font-size="12.90">400</text>
<text x="596.17" y="545.40" text-anchor="middle" font-size="12.90">600</text>
<text x="640.53" y="545.40" text-anchor="middle" font-size="12.90">800</text>
<text x="684.90" y="545.40" text-anchor="middle" font-size="12.90">1000</text>
<path d="M418.70,264.50 h-2.5 M418.70,237.00 h-2.5 M418.70,209.50 h-2.5 M418.70,182.00 h-2.5 M418.70,154.50 h-2.5 M418.70,127.00 h-2.5 M418.70,99.50 h-2.5 M418.70,72.00 h-2.5 M418.70,250.75 h-4.4 M418.70,223.25 h-4.4 M418.70,195.75 h-4.4 M418.70,168.25 h-4.4 M418.70,140.75 h-4.4 M418.70,113.25 h-4.4 M418.70,85.75 h-4.4 M418.70,58.25 h-4.4" stroke="#1a1a1a" stroke-width="1.10" fill="none"/>
<text x="411.80" y="254.75" text-anchor="end" font-size="12.90">0.00</text>
<text x="411.80" y="227.25" text-anchor="end" font-size="12.90">0.01</text>
<text x="411.80" y="199.75" text-anchor="end" font-size="12.90">0.02</text>
<text x="411.80" y="172.25" text-anchor="end" font-size="12.90">0.03</text>
<text x="411.80" y="144.75" text-anchor="end" font-size="12.90">0.04</text>
<text x="411.80" y="117.25" text-anchor="end" font-size="12.90">0.05</text>
<text x="411.80" y="89.75" text-anchor="end" font-size="12.90">0.06</text>
<text x="411.80" y="62.25" text-anchor="end" font-size="12.90">0.07</text>
<path d="M76.30,529.25 h-2.5 M76.30,501.75 h-2.5 M76.30,474.25 h-2.5 M76.30,446.75 h-2.5 M76.30,419.25 h-2.5 M76.30,391.75 h-2.5 M76.30,364.25 h-2.5 M76.30,336.75 h-2.5 M76.30,515.50 h-4.4 M76.30,488.00 h-4.4 M76.30,460.50 h-4.4 M76.30,433.00 h-4.4 M76.30,405.50 h-4.4 M76.30,378.00 h-4.4 M76.30,350.50 h-4.4 M76.30,323.00 h-4.4" stroke="#1a1a1a" stroke-width="1.10" fill="none"/>
<text x="69.40" y="519.50" text-anchor="end" font-size="12.90">0.000</text>
<text x="69.40" y="492.00" text-anchor="end" font-size="12.90">0.005</text>
<text x="69.40" y="464.50" text-anchor="end" font-size="12.90">0.010</text>
<text x="69.40" y="437.00" text-anchor="end" font-size="12.90">0.015</text>
<text x="69.40" y="409.50" text-anchor="end" font-size="12.90">0.020</text>
<text x="69.40" y="382.00" text-anchor="end" font-size="12.90">0.025</text>
<text x="69.40" y="354.50" text-anchor="end" font-size="12.90">0.030</text>
<text x="69.40" y="327.00" text-anchor="end" font-size="12.90">0.035</text>
<path d="M418.70,529.38 h-2.5 M418.70,488.12 h-2.5 M418.70,446.88 h-2.5 M418.70,405.62 h-2.5 M418.70,364.38 h-2.5 M418.70,323.12 h-2.5 M418.70,508.75 h-4.4 M418.70,467.50 h-4.4 M418.70,426.25 h-4.4 M418.70,385.00 h-4.4 M418.70,343.75 h-4.4" stroke="#1a1a1a" stroke-width="1.10" fill="none"/>
<text x="411.80" y="512.75" text-anchor="end" font-size="12.90">0.00</text>
<text x="411.80" y="471.50" text-anchor="end" font-size="12.90">0.01</text>
<text x="411.80" y="430.25" text-anchor="end" font-size="12.90">0.02</text>
<text x="411.80" y="389.00" text-anchor="end" font-size="12.90">0.03</text>
<text x="411.80" y="347.75" text-anchor="end" font-size="12.90">0.04</text>
<text x="94.80" y="84.40" font-size="14.50" text-anchor="start">(a)</text>
<text x="431.00" y="81.30" font-size="14.50" text-anchor="start">(b)</text>
<text x="89.30" y="342.00" font-size="14.50" text-anchor="start">(c)</text>
<text x="429.30" y="343.60" font-size="14.50" text-anchor="start">(d)</text>
<text x="551.40" y="305.50" font-size="15.75" text-anchor="middle">z (nm)</text>
<text x="209.60" y="570.10" font-size="15.75" text-anchor="middle">z (nm)</text>
<text x="551.40" y="570.10" font-size="15.75" text-anchor="middle">z (nm)</text>
<text x="175.00" y="305.50" font-size="15.75" text-anchor="start"><tspan font-size="13.50">θ</tspan><tspan dy="5.2">inc</tspan><tspan dy="-5.2" dx="4.3">(deg)</tspan></text>
<text transform="translate(25.20,180.50) rotate(-90)" font-size="15.75">A<tspan dy="5.4" dx="0.2">p</tspan></text>
<text transform="translate(372.90,211.70) rotate(-90)" font-size="15.75">P<tspan dy="5.2">x</tspan><tspan dy="-5.2"> (Wm</tspan><tspan dy="-9.4" font-size="15">-2</tspan><tspan dy="9.4">)</tspan></text>
<text transform="translate(29.50,472.50) rotate(-90)" font-size="15.75">P<tspan dy="5.2">x</tspan><tspan dy="-5.2"> (Wm</tspan><tspan dy="-9.4" font-size="15">-2</tspan><tspan dy="9.4">)</tspan></text>
<text transform="translate(376.20,476.00) rotate(-90)" font-size="15.75">P<tspan dy="5.2">x</tspan><tspan dy="-5.2"> (Wm</tspan><tspan dy="-9.4" font-size="15">-2</tspan><tspan dy="9.4">)</tspan></text>
<rect x="160.80" y="68.30" width="103.90" height="61.70" fill="#fff" stroke="#707070" stroke-width="0.8"/>
<path d="M164.50,78.70 H187.30" stroke="#000" stroke-width="2.4" fill="none"/>
<text x="191.00" y="82.70" font-size="12.85" text-anchor="start">L<tspan dy="3.3">s</tspan><tspan dy="-3.3"> = 25 nm</tspan></text>
<path d="M164.50,99.20 H183.50" stroke="#ff0000" stroke-width="2.4" fill="none" stroke-dasharray="6.3 3.9 2.4 3.1 2.4 3.1"/>
<text x="191.00" y="103.00" font-size="12.85" text-anchor="start">L<tspan dy="3.3">s</tspan><tspan dy="-3.3"> = 95 nm</tspan></text>
<path d="M164.50,119.70 H187.30" stroke="#0000ff" stroke-width="2.4" fill="none" stroke-dasharray="5.5 2.3 2 2.1"/>
<text x="191.00" y="123.50" font-size="12.85" text-anchor="start">L<tspan dy="3.3">s</tspan><tspan dy="-3.3"> = 190 nm</tspan></text>
<rect x="542.50" y="121.50" width="132.50" height="19.70" fill="#fff" stroke="#707070" stroke-width="0.8"/>
<path d="M545.80,130.40 H568.50" stroke="#000" stroke-width="2.4" fill="none"/>
<text x="571.80" y="134.10" font-size="12.85" text-anchor="start"><tspan font-size="11.09">θ</tspan><tspan dy="3.23" dx="0.3">inc</tspan><tspan dy="-3.23"> = 34.594 deg</tspan></text>
<text x="609.00" y="80.60" font-size="12.85" text-anchor="start">L<tspan dy="6.2">s</tspan><tspan dy="-6.2"> = 25 nm</tspan></text>
<rect x="189.00" y="387.50" width="144.00" height="43.10" fill="#fff" stroke="#707070" stroke-width="0.8"/>
<path d="M193.00,398.20 H215.30" stroke="#000" stroke-width="2.4" fill="none"/>
<text x="219.50" y="401.60" font-size="13.85" text-anchor="start"><tspan font-size="11.95">θ</tspan><tspan dy="3.48" dx="0.3">inc</tspan><tspan dy="-3.48"> = 34.594 deg</tspan></text>
<path d="M193.00,420.10 H215.30" stroke="#ff0000" stroke-width="2.4" fill="none" stroke-dasharray="8.3 5.7"/>
<text x="219.50" y="423.50" font-size="13.85" text-anchor="start"><tspan font-size="11.95">θ</tspan><tspan dy="3.48" dx="0.3">inc</tspan><tspan dy="-3.48"> = 81.770 deg</tspan></text>
<text x="264.50" y="346.80" font-size="12.85" text-anchor="start">L<tspan dy="6.1">s</tspan><tspan dy="-6.1"> = 95 nm</tspan></text>
<rect x="544.00" y="383.30" width="132.50" height="41.00" fill="#fff" stroke="#707070" stroke-width="0.8"/>
<path d="M547.60,393.60 H570.30" stroke="#000" stroke-width="2.4" fill="none"/>
<text x="573.60" y="397.00" font-size="12.85" text-anchor="start"><tspan font-size="11.09">θ</tspan><tspan dy="3.23" dx="0.3">inc</tspan><tspan dy="-3.23"> = 34.594 deg</tspan></text>
<path d="M547.60,413.80 H570.30" stroke="#ff0000" stroke-width="2.4" fill="none" stroke-dasharray="8.3 5.7"/>
<text x="573.60" y="417.40" font-size="12.85" text-anchor="start"><tspan font-size="11.09">θ</tspan><tspan dy="3.23" dx="0.3">inc</tspan><tspan dy="-3.23"> = 65.628 deg</tspan></text>
<text x="603.50" y="343.80" font-size="12.85" text-anchor="start">L<tspan dy="6.5">s</tspan><tspan dy="-6.5"> = 190 nm</tspan></text>
</svg>
</body></html>
